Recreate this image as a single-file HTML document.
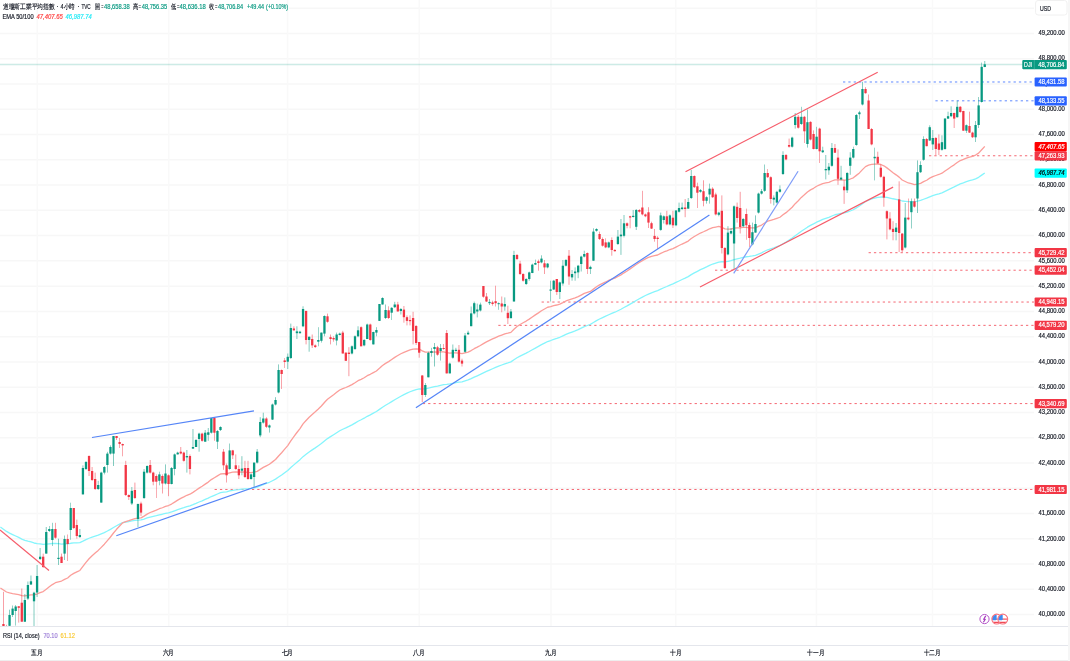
<!DOCTYPE html>
<html><head><meta charset="utf-8"><style>
html,body{margin:0;padding:0;background:#fff;}
body{width:1070px;height:661px;overflow:hidden;position:relative;font-family:"Liberation Sans",sans-serif;}
svg{position:absolute;left:0;top:0;will-change:transform;}
.tx{will-change:transform;}
.lg{position:absolute;left:2.8px;white-space:nowrap;font-size:6.6px;color:#131722;line-height:8px;}
.g{color:#089981}
</style></head><body>
<svg width="1070" height="661" viewBox="0 0 1070 661">
<line x1="0" y1="614.61" x2="1034" y2="614.61" stroke="#F7F7F7" stroke-width="1.5"/>
<line x1="0" y1="589.35" x2="1034" y2="589.35" stroke="#F7F7F7" stroke-width="1.5"/>
<line x1="0" y1="564.08" x2="1034" y2="564.08" stroke="#F7F7F7" stroke-width="1.5"/>
<line x1="0" y1="538.81" x2="1034" y2="538.81" stroke="#F7F7F7" stroke-width="1.5"/>
<line x1="0" y1="513.54" x2="1034" y2="513.54" stroke="#F7F7F7" stroke-width="1.5"/>
<line x1="0" y1="488.27" x2="1034" y2="488.27" stroke="#F7F7F7" stroke-width="1.5"/>
<line x1="0" y1="463.01" x2="1034" y2="463.01" stroke="#F7F7F7" stroke-width="1.5"/>
<line x1="0" y1="437.74" x2="1034" y2="437.74" stroke="#F7F7F7" stroke-width="1.5"/>
<line x1="0" y1="412.47" x2="1034" y2="412.47" stroke="#F7F7F7" stroke-width="1.5"/>
<line x1="0" y1="387.20" x2="1034" y2="387.20" stroke="#F7F7F7" stroke-width="1.5"/>
<line x1="0" y1="361.93" x2="1034" y2="361.93" stroke="#F7F7F7" stroke-width="1.5"/>
<line x1="0" y1="336.67" x2="1034" y2="336.67" stroke="#F7F7F7" stroke-width="1.5"/>
<line x1="0" y1="311.40" x2="1034" y2="311.40" stroke="#F7F7F7" stroke-width="1.5"/>
<line x1="0" y1="286.13" x2="1034" y2="286.13" stroke="#F7F7F7" stroke-width="1.5"/>
<line x1="0" y1="260.86" x2="1034" y2="260.86" stroke="#F7F7F7" stroke-width="1.5"/>
<line x1="0" y1="235.59" x2="1034" y2="235.59" stroke="#F7F7F7" stroke-width="1.5"/>
<line x1="0" y1="210.33" x2="1034" y2="210.33" stroke="#F7F7F7" stroke-width="1.5"/>
<line x1="0" y1="185.06" x2="1034" y2="185.06" stroke="#F7F7F7" stroke-width="1.5"/>
<line x1="0" y1="159.79" x2="1034" y2="159.79" stroke="#F7F7F7" stroke-width="1.5"/>
<line x1="0" y1="134.52" x2="1034" y2="134.52" stroke="#F7F7F7" stroke-width="1.5"/>
<line x1="0" y1="109.25" x2="1034" y2="109.25" stroke="#F7F7F7" stroke-width="1.5"/>
<line x1="0" y1="83.99" x2="1034" y2="83.99" stroke="#F7F7F7" stroke-width="1.5"/>
<line x1="0" y1="58.72" x2="1034" y2="58.72" stroke="#F7F7F7" stroke-width="1.5"/>
<line x1="0" y1="33.45" x2="1034" y2="33.45" stroke="#F7F7F7" stroke-width="1.5"/>
<line x1="0" y1="8.18" x2="1034" y2="8.18" stroke="#F7F7F7" stroke-width="1.5"/>
<rect x="0" y="2" width="289" height="9" fill="#fff"/>
<line x1="37.2" y1="0" x2="37.2" y2="626" stroke="#F9F9F9" stroke-width="1.5"/>
<line x1="168.7" y1="0" x2="168.7" y2="626" stroke="#F9F9F9" stroke-width="1.5"/>
<line x1="287.6" y1="0" x2="287.6" y2="626" stroke="#F9F9F9" stroke-width="1.5"/>
<line x1="419.3" y1="0" x2="419.3" y2="626" stroke="#F9F9F9" stroke-width="1.5"/>
<line x1="551" y1="0" x2="551" y2="626" stroke="#F9F9F9" stroke-width="1.5"/>
<line x1="675.8" y1="0" x2="675.8" y2="626" stroke="#F9F9F9" stroke-width="1.5"/>
<line x1="816.4" y1="0" x2="816.4" y2="626" stroke="#F9F9F9" stroke-width="1.5"/>
<line x1="932.5" y1="0" x2="932.5" y2="626" stroke="#F9F9F9" stroke-width="1.5"/>
<defs><clipPath id="cp"><rect x="0" y="0" width="1034" height="626"/></clipPath></defs>
<g clip-path="url(#cp)">
<line x1="214.6" y1="489.46" x2="1034" y2="489.46" stroke="#F23645" stroke-width="1" stroke-dasharray="2.3 3.03" opacity="0.75"/>
<line x1="422.8" y1="403.58" x2="1034" y2="403.58" stroke="#F23645" stroke-width="1" stroke-dasharray="2.3 3.03" opacity="0.75"/>
<line x1="498.3" y1="325.35" x2="1034" y2="325.35" stroke="#F23645" stroke-width="1" stroke-dasharray="2.3 3.03" opacity="0.75"/>
<line x1="541.6" y1="302.04" x2="1034" y2="302.04" stroke="#F23645" stroke-width="1" stroke-dasharray="2.3 3.03" opacity="0.75"/>
<line x1="715" y1="270.21" x2="1034" y2="270.21" stroke="#F23645" stroke-width="1" stroke-dasharray="2.3 3.03" opacity="0.75"/>
<line x1="868.6" y1="252.69" x2="1034" y2="252.69" stroke="#F23645" stroke-width="1" stroke-dasharray="2.3 3.03" opacity="0.75"/>
<line x1="929" y1="155.75" x2="1034" y2="155.75" stroke="#F23645" stroke-width="1" stroke-dasharray="2.3 3.03" opacity="0.75"/>
<line x1="843" y1="81.99" x2="1034" y2="81.99" stroke="#2962FF" stroke-width="1" stroke-dasharray="2.3 3.03" opacity="0.75"/>
<line x1="935.4" y1="100.82" x2="1034" y2="100.82" stroke="#2962FF" stroke-width="1" stroke-dasharray="2.3 3.03" opacity="0.75"/>
<line x1="0" y1="64.6" x2="1034" y2="64.6" stroke="#089981" stroke-width="1.5" opacity="0.2"/>
<polyline points="0.39,527.00 3.45,529.24 6.51,531.43 9.56,533.09 12.62,534.58 15.68,536.01 18.73,537.43 21.79,539.10 24.85,540.30 27.91,541.19 30.96,541.98 34.02,542.99 37.08,543.64 40.13,543.90 43.19,544.36 46.25,544.11 49.30,543.81 52.36,543.52 55.42,543.40 58.48,543.69 61.53,544.07 64.59,543.97 67.65,543.97 70.70,543.26 73.76,542.96 76.82,542.82 79.88,542.66 82.93,541.19 85.99,539.62 89.05,538.26 92.10,537.10 95.16,536.15 98.22,535.14 101.27,533.90 104.33,532.58 107.39,531.01 110.45,529.35 113.50,527.50 116.56,525.73 119.62,524.11 122.67,522.55 125.73,522.01 128.79,521.51 131.84,520.90 134.90,520.45 137.96,520.12 141.01,519.97 144.07,519.02 147.13,517.97 150.19,517.07 153.24,516.37 156.30,515.68 159.36,514.87 162.41,514.24 165.47,513.44 168.53,512.85 171.58,511.97 174.64,510.83 177.70,509.67 180.76,508.56 183.81,507.62 186.87,506.59 189.93,505.85 192.98,504.68 196.04,503.40 199.10,502.02 202.15,500.81 205.21,499.46 208.27,498.13 211.33,496.54 214.38,495.28 217.44,494.01 220.50,492.68 223.55,492.14 226.61,491.80 229.67,490.98 232.72,490.28 235.78,489.86 238.84,489.57 241.90,489.15 244.95,488.91 248.01,488.72 251.07,488.43 254.12,487.92 257.18,487.20 260.24,485.91 263.29,484.58 266.35,483.43 269.41,482.28 272.47,480.74 275.52,479.14 278.58,476.98 281.64,474.94 284.69,472.71 287.75,470.41 290.81,467.59 293.87,464.87 296.92,462.23 299.98,459.65 303.04,456.66 306.09,454.35 309.15,452.02 312.21,449.91 315.26,447.88 318.32,445.74 321.38,443.50 324.44,440.97 327.49,438.61 330.55,436.64 333.61,434.72 336.66,432.73 339.72,430.77 342.78,429.24 345.83,427.88 348.89,426.42 351.95,424.83 355.00,423.08 358.06,421.24 361.12,419.76 364.18,418.18 367.23,416.32 370.29,414.81 373.35,413.17 376.40,411.53 379.46,409.40 382.52,407.19 385.57,405.27 388.63,403.54 391.69,401.64 394.75,399.72 397.80,397.97 400.86,396.21 403.92,394.64 406.97,393.18 410.03,391.76 413.09,390.56 416.14,389.61 419.20,388.88 422.26,389.00 425.32,388.92 428.37,388.21 431.43,387.47 434.49,386.67 437.54,386.04 440.60,385.28 443.66,384.57 446.71,384.35 449.77,383.93 452.83,383.26 455.89,382.60 458.94,382.18 462.00,381.81 465.06,380.90 468.11,379.94 471.17,378.62 474.23,377.13 477.28,375.79 480.34,374.38 483.40,372.84 486.46,371.43 489.51,370.05 492.57,368.74 495.63,367.45 498.68,366.17 501.74,364.99 504.80,363.79 507.85,362.88 510.91,361.87 513.97,359.75 517.03,357.75 520.08,356.10 523.14,354.60 526.20,353.11 529.25,351.51 532.31,349.79 535.37,348.07 538.43,346.38 541.48,344.65 544.54,343.12 547.60,341.54 550.65,340.51 553.71,339.33 556.77,338.39 559.82,337.28 562.88,335.86 565.94,334.36 569.00,333.21 572.05,332.04 575.11,330.84 578.17,329.55 581.22,328.11 584.28,326.64 587.34,325.50 590.39,324.34 593.45,322.50 596.51,320.65 599.57,319.03 602.62,317.58 605.68,316.19 608.74,314.73 611.79,313.45 614.85,312.22 617.91,310.72 620.96,309.21 624.02,307.51 627.08,305.89 630.13,304.14 633.19,302.39 636.25,300.56 639.31,298.80 642.36,297.13 645.42,295.53 648.48,294.09 651.53,292.79 654.59,291.73 657.65,290.68 660.71,289.19 663.76,287.75 666.82,286.49 669.88,285.09 672.93,283.90 675.99,282.45 679.05,280.97 682.10,279.52 685.16,278.12 688.22,276.62 691.27,274.62 694.33,272.89 697.39,271.30 700.45,269.69 703.50,268.33 706.56,266.92 709.62,265.37 712.67,264.02 715.73,263.04 718.79,262.04 721.85,261.76 724.90,261.89 727.96,261.31 731.02,260.71 734.07,259.63 737.13,258.80 740.19,258.17 743.24,257.40 746.30,256.76 749.36,256.39 752.42,255.91 755.47,255.28 758.53,254.06 761.59,252.81 764.64,251.23 767.70,249.77 770.76,248.76 773.81,247.75 776.87,246.64 779.93,245.51 782.99,243.72 786.04,242.05 789.10,240.16 792.16,238.13 795.21,235.73 798.27,233.59 801.33,231.27 804.38,229.30 807.44,227.17 810.50,225.44 813.56,223.92 816.61,222.20 819.67,220.79 822.73,219.40 825.78,218.40 828.84,217.38 831.90,216.00 834.95,214.75 838.01,214.04 841.07,213.32 844.12,212.86 847.18,212.07 850.24,210.99 853.30,209.77 856.35,207.89 859.41,206.00 862.47,203.68 865.52,201.49 868.58,200.06 871.64,198.96 874.70,198.12 877.75,197.43 880.81,197.02 883.87,197.03 886.92,197.46 889.98,198.09 893.04,198.76 896.09,199.33 899.15,200.00 902.21,201.00 905.26,201.33 908.32,201.68 911.38,201.68 914.44,201.78 917.49,201.19 920.55,200.47 923.61,199.26 926.66,198.21 929.72,196.80 932.78,195.64 935.84,194.71 938.89,193.82 941.95,192.80 945.01,191.33 948.06,189.84 951.12,188.32 954.18,186.94 957.23,185.35 960.29,183.90 963.35,182.85 966.40,181.71 969.46,180.73 972.52,179.87 975.58,178.79 978.63,177.33 981.69,175.14 984.75,172.95" fill="none" stroke="#86F5FC" stroke-width="1.3" stroke-linejoin="round"/>
<polyline points="0.39,588.00 3.45,590.04 6.51,592.00 9.56,592.90 12.62,593.52 15.68,594.03 18.73,594.57 21.79,595.63 24.85,595.80 27.91,595.38 30.96,594.83 34.02,594.74 37.08,594.01 40.13,592.54 43.19,591.54 46.25,589.21 49.30,586.85 52.36,584.58 55.42,582.74 58.48,581.76 61.53,581.03 64.59,579.38 67.65,577.99 70.70,575.25 73.76,573.39 76.82,571.93 79.88,570.48 82.93,566.46 85.99,562.36 89.05,558.78 92.10,555.69 95.16,553.08 98.22,550.41 101.27,547.35 104.33,544.20 107.39,540.65 110.45,536.98 113.50,533.02 116.56,529.29 119.62,525.95 122.67,522.79 125.73,521.70 128.79,520.73 131.84,519.56 134.90,518.71 137.96,518.13 141.01,517.92 144.07,516.10 147.13,514.14 150.19,512.51 153.24,511.30 156.30,510.14 159.36,508.74 162.41,507.75 165.47,506.41 168.53,505.53 171.58,504.06 174.64,502.11 177.70,500.17 180.76,498.34 183.81,496.87 186.87,495.26 189.93,494.23 192.98,492.38 196.04,490.33 199.10,488.10 202.15,486.25 205.21,484.15 208.27,482.11 211.33,479.60 214.38,477.76 217.44,475.93 220.50,474.01 223.55,473.67 226.61,473.73 229.67,472.82 232.72,472.13 235.78,472.01 238.84,472.14 241.90,472.00 244.95,472.19 248.01,472.46 251.07,472.54 254.12,472.15 257.18,471.34 260.24,469.41 263.29,467.41 266.35,465.82 269.41,464.24 272.47,461.89 275.52,459.47 278.58,455.96 281.64,452.74 284.69,449.18 287.75,445.56 290.81,440.95 293.87,436.61 296.92,432.49 299.98,428.53 303.04,423.85 306.09,420.56 309.15,417.27 312.21,414.45 315.26,411.81 318.32,408.99 321.38,406.00 324.44,402.47 327.49,399.30 330.55,396.94 333.61,394.68 336.66,392.32 339.72,390.02 342.78,388.59 345.83,387.50 348.89,386.18 351.95,384.62 355.00,382.73 358.06,380.67 361.12,379.32 364.18,377.78 367.23,375.69 370.29,374.29 373.35,372.63 376.40,370.96 379.46,368.33 382.52,365.58 385.57,363.40 388.63,361.62 391.69,359.51 394.75,357.35 397.80,355.55 400.86,353.72 403.92,352.29 406.97,351.06 410.03,349.89 413.09,349.15 416.14,348.91 419.20,349.05 422.26,350.86 425.32,352.20 428.37,352.22 431.43,352.17 434.49,351.97 437.54,352.08 440.60,351.92 443.66,351.80 446.71,352.65 449.77,353.08 452.83,352.95 455.89,352.83 458.94,353.17 462.00,353.58 465.06,352.87 468.11,352.08 471.17,350.56 474.23,348.70 477.28,347.17 480.34,345.50 483.40,343.58 486.46,341.93 489.51,340.36 492.57,338.94 495.63,337.54 498.68,336.19 501.74,335.03 504.80,333.81 507.85,333.20 510.91,332.35 513.97,329.31 517.03,326.56 520.08,324.49 523.14,322.78 526.20,321.06 529.25,319.15 532.31,317.01 535.37,314.89 538.43,312.86 541.48,310.73 544.54,309.03 547.60,307.25 550.65,306.55 553.71,305.54 556.77,305.01 559.82,304.12 562.88,302.62 565.94,300.95 569.00,299.99 572.05,298.97 575.11,297.89 578.17,296.63 581.22,295.06 584.28,293.45 587.34,292.49 590.39,291.49 593.45,289.14 596.51,286.78 599.57,284.91 602.62,283.37 605.68,281.96 608.74,280.41 611.79,279.21 614.85,278.12 617.91,276.49 620.96,274.84 624.02,272.82 627.08,270.98 630.13,268.88 633.19,266.80 636.25,264.57 639.31,262.50 642.36,260.61 645.42,258.88 648.48,257.45 651.53,256.32 654.59,255.64 657.65,254.99 660.71,253.44 663.76,251.98 666.82,250.90 669.88,249.51 672.93,248.56 675.99,247.07 679.05,245.53 682.10,244.04 685.16,242.67 688.22,241.07 691.27,238.52 694.33,236.51 697.39,234.79 700.45,233.03 703.50,231.77 706.56,230.41 709.62,228.78 712.67,227.54 715.73,227.02 718.79,226.46 721.85,227.30 724.90,228.90 727.96,229.04 731.02,229.12 734.07,228.23 737.13,227.83 740.19,227.79 743.24,227.45 746.30,227.36 749.36,227.78 752.42,227.95 755.47,227.80 758.53,226.46 761.59,225.08 764.64,223.03 767.70,221.24 770.76,220.36 773.81,219.48 776.87,218.39 779.93,217.25 782.99,214.81 786.04,212.64 789.10,210.05 792.16,207.21 795.21,203.67 798.27,200.69 801.33,197.40 804.38,194.81 807.44,191.96 810.50,189.90 813.56,188.30 816.61,186.27 819.67,184.90 822.73,183.55 825.78,182.98 828.84,182.34 831.90,180.99 834.95,179.88 838.01,179.84 841.07,179.75 844.12,180.17 847.18,179.89 850.24,179.01 853.30,177.84 856.35,175.37 859.41,172.90 862.47,169.61 865.52,166.61 868.58,165.14 871.64,164.33 874.70,164.03 877.75,164.00 880.81,164.50 883.87,165.80 886.92,167.87 889.98,170.28 893.04,172.70 896.09,174.85 899.15,177.14 902.21,180.00 905.26,181.48 908.32,182.97 911.38,183.68 914.44,184.59 917.49,184.10 920.55,183.35 923.61,181.61 926.66,180.22 929.72,178.15 932.78,176.57 935.84,175.49 938.89,174.48 941.95,173.22 945.01,171.07 948.06,168.92 951.12,166.73 954.18,164.84 957.23,162.57 960.29,160.58 963.35,159.41 966.40,158.07 969.46,157.07 972.52,156.29 975.58,155.06 978.63,153.12 981.69,149.73 984.75,146.38" fill="none" stroke="#FB9E9A" stroke-width="1.3" stroke-linejoin="round"/>
<line x1="3.45" y1="591.8" x2="3.45" y2="640.0" stroke="#F23645" stroke-width="0.6" opacity="0.85"/>
<rect x="2.30" y="624.0" width="2.3" height="16.0" fill="#F23645"/>
<line x1="6.51" y1="624.8" x2="6.51" y2="640.0" stroke="#F23645" stroke-width="0.6" opacity="0.85"/>
<rect x="5.36" y="626.0" width="2.3" height="14.0" fill="#F23645"/>
<line x1="9.56" y1="609.7" x2="9.56" y2="626.0" stroke="#089981" stroke-width="0.6" opacity="0.85"/>
<rect x="8.41" y="615.0" width="2.3" height="10.8" fill="#089981"/>
<line x1="12.62" y1="605.5" x2="12.62" y2="617.0" stroke="#089981" stroke-width="0.6" opacity="0.85"/>
<rect x="11.47" y="608.6" width="2.3" height="6.4" fill="#089981"/>
<line x1="15.68" y1="605.0" x2="15.68" y2="625.6" stroke="#089981" stroke-width="0.6" opacity="0.85"/>
<rect x="14.53" y="606.5" width="2.3" height="4.5" fill="#089981"/>
<line x1="18.73" y1="606.0" x2="18.73" y2="622.6" stroke="#F23645" stroke-width="0.6" opacity="0.85"/>
<rect x="17.59" y="606.3" width="2.3" height="1.5" fill="#F23645"/>
<line x1="21.79" y1="588.5" x2="21.79" y2="621.7" stroke="#F23645" stroke-width="0.6" opacity="0.85"/>
<rect x="20.64" y="602.7" width="2.3" height="19.0" fill="#F23645"/>
<line x1="24.85" y1="594.0" x2="24.85" y2="622.0" stroke="#089981" stroke-width="0.6" opacity="0.85"/>
<rect x="23.70" y="600.0" width="2.3" height="21.7" fill="#089981"/>
<line x1="27.91" y1="581.5" x2="27.91" y2="600.0" stroke="#089981" stroke-width="0.6" opacity="0.85"/>
<rect x="26.76" y="585.0" width="2.3" height="13.6" fill="#089981"/>
<line x1="30.96" y1="575.5" x2="30.96" y2="585.0" stroke="#089981" stroke-width="0.6" opacity="0.85"/>
<rect x="29.81" y="581.3" width="2.3" height="3.2" fill="#089981"/>
<line x1="34.02" y1="591.7" x2="34.02" y2="626.0" stroke="#089981" stroke-width="0.6" opacity="0.85"/>
<rect x="32.87" y="592.7" width="2.3" height="8.6" fill="#089981"/>
<line x1="37.08" y1="565.0" x2="37.08" y2="597.0" stroke="#089981" stroke-width="0.6" opacity="0.85"/>
<rect x="35.93" y="576.0" width="2.3" height="16.5" fill="#089981"/>
<line x1="40.13" y1="548.0" x2="40.13" y2="560.0" stroke="#089981" stroke-width="0.6" opacity="0.85"/>
<rect x="38.98" y="556.7" width="2.3" height="2.3" fill="#089981"/>
<line x1="43.19" y1="553.6" x2="43.19" y2="568.0" stroke="#F23645" stroke-width="0.6" opacity="0.85"/>
<rect x="42.04" y="556.7" width="2.3" height="10.3" fill="#F23645"/>
<line x1="46.25" y1="527.0" x2="46.25" y2="553.6" stroke="#089981" stroke-width="0.6" opacity="0.85"/>
<rect x="45.10" y="532.0" width="2.3" height="21.6" fill="#089981"/>
<line x1="49.30" y1="526.0" x2="49.30" y2="532.0" stroke="#089981" stroke-width="0.6" opacity="0.85"/>
<rect x="48.16" y="529.0" width="2.3" height="2.0" fill="#089981"/>
<line x1="52.36" y1="522.8" x2="52.36" y2="546.0" stroke="#089981" stroke-width="0.6" opacity="0.85"/>
<rect x="51.21" y="529.0" width="2.3" height="11.0" fill="#089981"/>
<line x1="55.42" y1="522.8" x2="55.42" y2="538.7" stroke="#F23645" stroke-width="0.6" opacity="0.85"/>
<rect x="54.27" y="529.0" width="2.3" height="8.7" fill="#F23645"/>
<line x1="58.48" y1="538.7" x2="58.48" y2="565.0" stroke="#089981" stroke-width="0.6" opacity="0.85"/>
<rect x="57.33" y="557.8" width="2.3" height="1.2" fill="#089981"/>
<line x1="61.53" y1="553.6" x2="61.53" y2="563.0" stroke="#F23645" stroke-width="0.6" opacity="0.85"/>
<rect x="60.38" y="556.7" width="2.3" height="6.3" fill="#F23645"/>
<line x1="64.59" y1="535.5" x2="64.59" y2="560.0" stroke="#089981" stroke-width="0.6" opacity="0.85"/>
<rect x="63.44" y="539.0" width="2.3" height="14.6" fill="#089981"/>
<line x1="67.65" y1="534.5" x2="67.65" y2="561.0" stroke="#F23645" stroke-width="0.6" opacity="0.85"/>
<rect x="66.50" y="539.0" width="2.3" height="5.0" fill="#F23645"/>
<line x1="70.70" y1="502.7" x2="70.70" y2="539.8" stroke="#089981" stroke-width="0.6" opacity="0.85"/>
<rect x="69.55" y="508.0" width="2.3" height="22.0" fill="#089981"/>
<line x1="73.76" y1="508.0" x2="73.76" y2="529.0" stroke="#F23645" stroke-width="0.6" opacity="0.85"/>
<rect x="72.61" y="508.0" width="2.3" height="20.0" fill="#F23645"/>
<line x1="76.82" y1="519.6" x2="76.82" y2="538.7" stroke="#F23645" stroke-width="0.6" opacity="0.85"/>
<rect x="75.67" y="525.0" width="2.3" height="11.0" fill="#F23645"/>
<line x1="79.88" y1="529.0" x2="79.88" y2="538.0" stroke="#089981" stroke-width="0.6" opacity="0.85"/>
<rect x="78.72" y="535.0" width="2.3" height="2.0" fill="#089981"/>
<line x1="82.93" y1="465.4" x2="82.93" y2="494.4" stroke="#089981" stroke-width="0.6" opacity="0.85"/>
<rect x="81.78" y="468.0" width="2.3" height="26.4" fill="#089981"/>
<line x1="85.99" y1="461.0" x2="85.99" y2="470.0" stroke="#089981" stroke-width="0.6" opacity="0.85"/>
<rect x="84.84" y="462.0" width="2.3" height="7.0" fill="#089981"/>
<line x1="89.05" y1="455.4" x2="89.05" y2="476.0" stroke="#F23645" stroke-width="0.6" opacity="0.85"/>
<rect x="87.90" y="456.0" width="2.3" height="15.0" fill="#F23645"/>
<line x1="92.10" y1="467.0" x2="92.10" y2="481.0" stroke="#F23645" stroke-width="0.6" opacity="0.85"/>
<rect x="90.95" y="471.0" width="2.3" height="9.0" fill="#F23645"/>
<line x1="95.16" y1="472.6" x2="95.16" y2="490.0" stroke="#F23645" stroke-width="0.6" opacity="0.85"/>
<rect x="94.01" y="479.0" width="2.3" height="10.0" fill="#F23645"/>
<line x1="98.22" y1="480.8" x2="98.22" y2="490.0" stroke="#089981" stroke-width="0.6" opacity="0.85"/>
<rect x="97.07" y="485.0" width="2.3" height="4.0" fill="#089981"/>
<line x1="101.27" y1="471.7" x2="101.27" y2="502.6" stroke="#089981" stroke-width="0.6" opacity="0.85"/>
<rect x="100.12" y="472.6" width="2.3" height="30.0" fill="#089981"/>
<line x1="104.33" y1="466.0" x2="104.33" y2="474.4" stroke="#089981" stroke-width="0.6" opacity="0.85"/>
<rect x="103.18" y="467.0" width="2.3" height="5.6" fill="#089981"/>
<line x1="107.39" y1="451.8" x2="107.39" y2="472.6" stroke="#089981" stroke-width="0.6" opacity="0.85"/>
<rect x="106.24" y="453.6" width="2.3" height="11.4" fill="#089981"/>
<line x1="110.45" y1="445.4" x2="110.45" y2="454.5" stroke="#089981" stroke-width="0.6" opacity="0.85"/>
<rect x="109.30" y="447.0" width="2.3" height="6.6" fill="#089981"/>
<line x1="113.50" y1="436.0" x2="113.50" y2="466.0" stroke="#089981" stroke-width="0.6" opacity="0.85"/>
<rect x="112.35" y="436.0" width="2.3" height="17.6" fill="#089981"/>
<line x1="116.56" y1="436.0" x2="116.56" y2="440.0" stroke="#F23645" stroke-width="0.6" opacity="0.85"/>
<rect x="115.41" y="436.0" width="2.3" height="2.0" fill="#F23645"/>
<line x1="119.62" y1="438.0" x2="119.62" y2="448.0" stroke="#F23645" stroke-width="0.6" opacity="0.85"/>
<rect x="118.47" y="442.0" width="2.3" height="2.0" fill="#F23645"/>
<line x1="122.67" y1="443.6" x2="122.67" y2="456.3" stroke="#F23645" stroke-width="0.6" opacity="0.85"/>
<rect x="121.52" y="444.0" width="2.3" height="1.4" fill="#F23645"/>
<line x1="125.73" y1="460.8" x2="125.73" y2="496.0" stroke="#F23645" stroke-width="0.6" opacity="0.85"/>
<rect x="124.58" y="465.0" width="2.3" height="30.0" fill="#F23645"/>
<line x1="128.79" y1="494.4" x2="128.79" y2="500.0" stroke="#F23645" stroke-width="0.6" opacity="0.85"/>
<rect x="127.64" y="495.0" width="2.3" height="2.0" fill="#F23645"/>
<line x1="131.84" y1="487.0" x2="131.84" y2="505.0" stroke="#089981" stroke-width="0.6" opacity="0.85"/>
<rect x="130.69" y="490.8" width="2.3" height="12.7" fill="#089981"/>
<line x1="134.90" y1="482.6" x2="134.90" y2="499.0" stroke="#F23645" stroke-width="0.6" opacity="0.85"/>
<rect x="133.75" y="490.0" width="2.3" height="8.0" fill="#F23645"/>
<line x1="137.96" y1="503.5" x2="137.96" y2="527.0" stroke="#089981" stroke-width="0.6" opacity="0.85"/>
<rect x="136.81" y="504.0" width="2.3" height="15.0" fill="#089981"/>
<line x1="141.01" y1="501.7" x2="141.01" y2="516.0" stroke="#F23645" stroke-width="0.6" opacity="0.85"/>
<rect x="139.86" y="503.5" width="2.3" height="9.1" fill="#F23645"/>
<line x1="144.07" y1="469.0" x2="144.07" y2="499.0" stroke="#089981" stroke-width="0.6" opacity="0.85"/>
<rect x="142.92" y="471.7" width="2.3" height="26.3" fill="#089981"/>
<line x1="147.13" y1="465.4" x2="147.13" y2="473.5" stroke="#089981" stroke-width="0.6" opacity="0.85"/>
<rect x="145.98" y="466.0" width="2.3" height="6.6" fill="#089981"/>
<line x1="150.19" y1="460.0" x2="150.19" y2="473.5" stroke="#F23645" stroke-width="0.6" opacity="0.85"/>
<rect x="149.04" y="465.0" width="2.3" height="7.6" fill="#F23645"/>
<line x1="153.24" y1="471.7" x2="153.24" y2="485.3" stroke="#F23645" stroke-width="0.6" opacity="0.85"/>
<rect x="152.09" y="472.6" width="2.3" height="9.1" fill="#F23645"/>
<line x1="156.30" y1="474.4" x2="156.30" y2="498.0" stroke="#F23645" stroke-width="0.6" opacity="0.85"/>
<rect x="155.15" y="476.0" width="2.3" height="5.7" fill="#F23645"/>
<line x1="159.36" y1="471.7" x2="159.36" y2="485.3" stroke="#089981" stroke-width="0.6" opacity="0.85"/>
<rect x="158.21" y="474.4" width="2.3" height="6.4" fill="#089981"/>
<line x1="162.41" y1="474.4" x2="162.41" y2="493.5" stroke="#F23645" stroke-width="0.6" opacity="0.85"/>
<rect x="161.26" y="476.0" width="2.3" height="7.5" fill="#F23645"/>
<line x1="165.47" y1="464.4" x2="165.47" y2="484.4" stroke="#089981" stroke-width="0.6" opacity="0.85"/>
<rect x="164.32" y="473.5" width="2.3" height="10.0" fill="#089981"/>
<line x1="168.53" y1="474.4" x2="168.53" y2="496.2" stroke="#F23645" stroke-width="0.6" opacity="0.85"/>
<rect x="167.38" y="475.3" width="2.3" height="8.7" fill="#F23645"/>
<line x1="171.58" y1="467.0" x2="171.58" y2="484.4" stroke="#089981" stroke-width="0.6" opacity="0.85"/>
<rect x="170.43" y="468.0" width="2.3" height="16.0" fill="#089981"/>
<line x1="174.64" y1="453.5" x2="174.64" y2="475.3" stroke="#089981" stroke-width="0.6" opacity="0.85"/>
<rect x="173.49" y="454.4" width="2.3" height="14.6" fill="#089981"/>
<line x1="177.70" y1="451.7" x2="177.70" y2="454.4" stroke="#089981" stroke-width="0.6" opacity="0.85"/>
<rect x="176.55" y="452.6" width="2.3" height="1.8" fill="#089981"/>
<line x1="180.76" y1="447.0" x2="180.76" y2="454.4" stroke="#F23645" stroke-width="0.6" opacity="0.85"/>
<rect x="179.61" y="451.7" width="2.3" height="1.8" fill="#F23645"/>
<line x1="183.81" y1="451.7" x2="183.81" y2="461.7" stroke="#F23645" stroke-width="0.6" opacity="0.85"/>
<rect x="182.66" y="452.6" width="2.3" height="8.2" fill="#F23645"/>
<line x1="186.87" y1="450.0" x2="186.87" y2="472.6" stroke="#089981" stroke-width="0.6" opacity="0.85"/>
<rect x="185.72" y="456.0" width="2.3" height="1.4" fill="#089981"/>
<line x1="189.93" y1="454.4" x2="189.93" y2="474.4" stroke="#F23645" stroke-width="0.6" opacity="0.85"/>
<rect x="188.78" y="456.0" width="2.3" height="13.0" fill="#F23645"/>
<line x1="192.98" y1="429.0" x2="192.98" y2="449.0" stroke="#089981" stroke-width="0.6" opacity="0.85"/>
<rect x="191.83" y="447.0" width="2.3" height="1.6" fill="#089981"/>
<line x1="196.04" y1="439.0" x2="196.04" y2="447.0" stroke="#089981" stroke-width="0.6" opacity="0.85"/>
<rect x="194.89" y="440.0" width="2.3" height="7.0" fill="#089981"/>
<line x1="199.10" y1="432.7" x2="199.10" y2="451.7" stroke="#089981" stroke-width="0.6" opacity="0.85"/>
<rect x="197.95" y="433.6" width="2.3" height="5.4" fill="#089981"/>
<line x1="202.15" y1="432.7" x2="202.15" y2="441.7" stroke="#F23645" stroke-width="0.6" opacity="0.85"/>
<rect x="201.00" y="433.6" width="2.3" height="7.2" fill="#F23645"/>
<line x1="205.21" y1="430.0" x2="205.21" y2="441.7" stroke="#089981" stroke-width="0.6" opacity="0.85"/>
<rect x="204.06" y="432.7" width="2.3" height="9.0" fill="#089981"/>
<line x1="208.27" y1="428.0" x2="208.27" y2="440.8" stroke="#089981" stroke-width="0.6" opacity="0.85"/>
<rect x="207.12" y="432.3" width="2.3" height="2.5" fill="#089981"/>
<line x1="211.33" y1="418.0" x2="211.33" y2="433.6" stroke="#089981" stroke-width="0.6" opacity="0.85"/>
<rect x="210.18" y="418.0" width="2.3" height="14.7" fill="#089981"/>
<line x1="214.38" y1="417.0" x2="214.38" y2="440.8" stroke="#F23645" stroke-width="0.6" opacity="0.85"/>
<rect x="213.23" y="418.0" width="2.3" height="14.7" fill="#F23645"/>
<line x1="217.44" y1="430.0" x2="217.44" y2="449.0" stroke="#089981" stroke-width="0.6" opacity="0.85"/>
<rect x="216.29" y="431.0" width="2.3" height="10.7" fill="#089981"/>
<line x1="220.50" y1="426.3" x2="220.50" y2="431.0" stroke="#089981" stroke-width="0.6" opacity="0.85"/>
<rect x="219.35" y="427.0" width="2.3" height="3.0" fill="#089981"/>
<line x1="223.55" y1="449.0" x2="223.55" y2="469.8" stroke="#F23645" stroke-width="0.6" opacity="0.85"/>
<rect x="222.40" y="451.7" width="2.3" height="13.6" fill="#F23645"/>
<line x1="226.61" y1="463.5" x2="226.61" y2="482.5" stroke="#F23645" stroke-width="0.6" opacity="0.85"/>
<rect x="225.46" y="465.3" width="2.3" height="10.0" fill="#F23645"/>
<line x1="229.67" y1="443.5" x2="229.67" y2="469.8" stroke="#089981" stroke-width="0.6" opacity="0.85"/>
<rect x="228.52" y="450.4" width="2.3" height="18.6" fill="#089981"/>
<line x1="232.72" y1="449.9" x2="232.72" y2="459.0" stroke="#F23645" stroke-width="0.6" opacity="0.85"/>
<rect x="231.57" y="450.4" width="2.3" height="4.9" fill="#F23645"/>
<line x1="235.78" y1="454.4" x2="235.78" y2="469.8" stroke="#F23645" stroke-width="0.6" opacity="0.85"/>
<rect x="234.63" y="465.3" width="2.3" height="3.7" fill="#F23645"/>
<line x1="238.84" y1="465.3" x2="238.84" y2="479.0" stroke="#F23645" stroke-width="0.6" opacity="0.85"/>
<rect x="237.69" y="469.0" width="2.3" height="6.3" fill="#F23645"/>
<line x1="241.90" y1="456.2" x2="241.90" y2="475.3" stroke="#089981" stroke-width="0.6" opacity="0.85"/>
<rect x="240.75" y="468.6" width="2.3" height="2.1" fill="#089981"/>
<line x1="244.95" y1="460.8" x2="244.95" y2="478.0" stroke="#F23645" stroke-width="0.6" opacity="0.85"/>
<rect x="243.80" y="468.0" width="2.3" height="9.0" fill="#F23645"/>
<line x1="248.01" y1="460.8" x2="248.01" y2="479.8" stroke="#F23645" stroke-width="0.6" opacity="0.85"/>
<rect x="246.86" y="468.0" width="2.3" height="11.0" fill="#F23645"/>
<line x1="251.07" y1="473.5" x2="251.07" y2="479.8" stroke="#089981" stroke-width="0.6" opacity="0.85"/>
<rect x="249.92" y="474.4" width="2.3" height="4.6" fill="#089981"/>
<line x1="254.12" y1="462.6" x2="254.12" y2="487.0" stroke="#089981" stroke-width="0.6" opacity="0.85"/>
<rect x="252.97" y="462.6" width="2.3" height="14.4" fill="#089981"/>
<line x1="257.18" y1="449.0" x2="257.18" y2="463.5" stroke="#089981" stroke-width="0.6" opacity="0.85"/>
<rect x="256.03" y="451.7" width="2.3" height="10.9" fill="#089981"/>
<line x1="260.24" y1="417.2" x2="260.24" y2="437.2" stroke="#089981" stroke-width="0.6" opacity="0.85"/>
<rect x="259.09" y="422.0" width="2.3" height="13.4" fill="#089981"/>
<line x1="263.29" y1="412.7" x2="263.29" y2="423.6" stroke="#089981" stroke-width="0.6" opacity="0.85"/>
<rect x="262.14" y="418.5" width="2.3" height="4.1" fill="#089981"/>
<line x1="266.35" y1="417.2" x2="266.35" y2="428.0" stroke="#F23645" stroke-width="0.6" opacity="0.85"/>
<rect x="265.20" y="418.5" width="2.3" height="8.3" fill="#F23645"/>
<line x1="269.41" y1="424.5" x2="269.41" y2="432.6" stroke="#089981" stroke-width="0.6" opacity="0.85"/>
<rect x="268.26" y="425.4" width="2.3" height="2.1" fill="#089981"/>
<line x1="272.47" y1="403.6" x2="272.47" y2="420.0" stroke="#089981" stroke-width="0.6" opacity="0.85"/>
<rect x="271.32" y="404.5" width="2.3" height="15.1" fill="#089981"/>
<line x1="275.52" y1="397.2" x2="275.52" y2="405.4" stroke="#089981" stroke-width="0.6" opacity="0.85"/>
<rect x="274.37" y="400.0" width="2.3" height="4.5" fill="#089981"/>
<line x1="278.58" y1="364.4" x2="278.58" y2="393.4" stroke="#089981" stroke-width="0.6" opacity="0.85"/>
<rect x="277.43" y="370.0" width="2.3" height="22.5" fill="#089981"/>
<line x1="281.64" y1="369.5" x2="281.64" y2="389.0" stroke="#F23645" stroke-width="0.6" opacity="0.85"/>
<rect x="280.49" y="370.0" width="2.3" height="4.0" fill="#F23645"/>
<line x1="284.69" y1="358.0" x2="284.69" y2="368.0" stroke="#F23645" stroke-width="0.6" opacity="0.85"/>
<rect x="283.54" y="360.4" width="2.3" height="1.6" fill="#F23645"/>
<line x1="287.75" y1="353.5" x2="287.75" y2="369.0" stroke="#089981" stroke-width="0.6" opacity="0.85"/>
<rect x="286.60" y="356.8" width="2.3" height="4.9" fill="#089981"/>
<line x1="290.81" y1="323.6" x2="290.81" y2="359.0" stroke="#089981" stroke-width="0.6" opacity="0.85"/>
<rect x="289.66" y="328.0" width="2.3" height="30.0" fill="#089981"/>
<line x1="293.87" y1="326.3" x2="293.87" y2="330.8" stroke="#F23645" stroke-width="0.6" opacity="0.85"/>
<rect x="292.72" y="328.5" width="2.3" height="1.8" fill="#F23645"/>
<line x1="296.92" y1="326.3" x2="296.92" y2="339.0" stroke="#089981" stroke-width="0.6" opacity="0.85"/>
<rect x="295.77" y="331.4" width="2.3" height="1.8" fill="#089981"/>
<line x1="299.98" y1="330.8" x2="299.98" y2="333.6" stroke="#089981" stroke-width="0.6" opacity="0.85"/>
<rect x="298.83" y="331.7" width="2.3" height="1.5" fill="#089981"/>
<line x1="303.04" y1="306.3" x2="303.04" y2="327.2" stroke="#089981" stroke-width="0.6" opacity="0.85"/>
<rect x="301.89" y="309.0" width="2.3" height="17.3" fill="#089981"/>
<line x1="306.09" y1="310.9" x2="306.09" y2="344.4" stroke="#F23645" stroke-width="0.6" opacity="0.85"/>
<rect x="304.94" y="310.9" width="2.3" height="29.1" fill="#F23645"/>
<line x1="309.15" y1="336.3" x2="309.15" y2="351.7" stroke="#089981" stroke-width="0.6" opacity="0.85"/>
<rect x="308.00" y="336.8" width="2.3" height="3.2" fill="#089981"/>
<line x1="312.21" y1="334.5" x2="312.21" y2="348.0" stroke="#F23645" stroke-width="0.6" opacity="0.85"/>
<rect x="311.06" y="339.0" width="2.3" height="6.4" fill="#F23645"/>
<line x1="315.26" y1="344.4" x2="315.26" y2="348.0" stroke="#F23645" stroke-width="0.6" opacity="0.85"/>
<rect x="314.11" y="345.4" width="2.3" height="1.6" fill="#F23645"/>
<line x1="318.32" y1="327.2" x2="318.32" y2="346.3" stroke="#089981" stroke-width="0.6" opacity="0.85"/>
<rect x="317.17" y="340.0" width="2.3" height="1.7" fill="#089981"/>
<line x1="321.38" y1="332.6" x2="321.38" y2="342.6" stroke="#089981" stroke-width="0.6" opacity="0.85"/>
<rect x="320.23" y="332.6" width="2.3" height="8.2" fill="#089981"/>
<line x1="324.44" y1="315.4" x2="324.44" y2="336.3" stroke="#089981" stroke-width="0.6" opacity="0.85"/>
<rect x="323.29" y="316.0" width="2.3" height="17.6" fill="#089981"/>
<line x1="327.49" y1="313.6" x2="327.49" y2="322.7" stroke="#F23645" stroke-width="0.6" opacity="0.85"/>
<rect x="326.34" y="316.3" width="2.3" height="5.5" fill="#F23645"/>
<line x1="330.55" y1="334.5" x2="330.55" y2="344.4" stroke="#F23645" stroke-width="0.6" opacity="0.85"/>
<rect x="329.40" y="337.2" width="2.3" height="1.8" fill="#F23645"/>
<line x1="333.61" y1="336.3" x2="333.61" y2="341.7" stroke="#F23645" stroke-width="0.6" opacity="0.85"/>
<rect x="332.46" y="338.0" width="2.3" height="1.4" fill="#F23645"/>
<line x1="336.66" y1="332.6" x2="336.66" y2="345.4" stroke="#089981" stroke-width="0.6" opacity="0.85"/>
<rect x="335.51" y="334.5" width="2.3" height="6.0" fill="#089981"/>
<line x1="339.72" y1="332.6" x2="339.72" y2="335.4" stroke="#089981" stroke-width="0.6" opacity="0.85"/>
<rect x="338.57" y="333.6" width="2.3" height="1.4" fill="#089981"/>
<line x1="342.78" y1="330.8" x2="342.78" y2="353.5" stroke="#F23645" stroke-width="0.6" opacity="0.85"/>
<rect x="341.63" y="332.6" width="2.3" height="20.9" fill="#F23645"/>
<line x1="345.83" y1="352.6" x2="345.83" y2="360.8" stroke="#F23645" stroke-width="0.6" opacity="0.85"/>
<rect x="344.68" y="352.6" width="2.3" height="8.2" fill="#F23645"/>
<line x1="348.89" y1="347.2" x2="348.89" y2="376.2" stroke="#F23645" stroke-width="0.6" opacity="0.85"/>
<rect x="347.74" y="352.6" width="2.3" height="1.4" fill="#F23645"/>
<line x1="351.95" y1="345.4" x2="351.95" y2="354.4" stroke="#089981" stroke-width="0.6" opacity="0.85"/>
<rect x="350.80" y="346.3" width="2.3" height="7.2" fill="#089981"/>
<line x1="355.00" y1="335.4" x2="355.00" y2="350.0" stroke="#089981" stroke-width="0.6" opacity="0.85"/>
<rect x="353.86" y="336.3" width="2.3" height="12.7" fill="#089981"/>
<line x1="358.06" y1="326.3" x2="358.06" y2="337.2" stroke="#089981" stroke-width="0.6" opacity="0.85"/>
<rect x="356.91" y="330.3" width="2.3" height="6.0" fill="#089981"/>
<line x1="361.12" y1="326.3" x2="361.12" y2="346.3" stroke="#F23645" stroke-width="0.6" opacity="0.85"/>
<rect x="359.97" y="327.2" width="2.3" height="19.1" fill="#F23645"/>
<line x1="364.18" y1="339.0" x2="364.18" y2="346.3" stroke="#089981" stroke-width="0.6" opacity="0.85"/>
<rect x="363.03" y="340.0" width="2.3" height="5.4" fill="#089981"/>
<line x1="367.23" y1="323.6" x2="367.23" y2="339.0" stroke="#089981" stroke-width="0.6" opacity="0.85"/>
<rect x="366.08" y="324.5" width="2.3" height="14.5" fill="#089981"/>
<line x1="370.29" y1="323.6" x2="370.29" y2="340.8" stroke="#F23645" stroke-width="0.6" opacity="0.85"/>
<rect x="369.14" y="324.5" width="2.3" height="15.5" fill="#F23645"/>
<line x1="373.35" y1="331.7" x2="373.35" y2="344.4" stroke="#089981" stroke-width="0.6" opacity="0.85"/>
<rect x="372.20" y="332.0" width="2.3" height="12.4" fill="#089981"/>
<line x1="376.40" y1="327.2" x2="376.40" y2="336.3" stroke="#089981" stroke-width="0.6" opacity="0.85"/>
<rect x="375.25" y="330.0" width="2.3" height="2.6" fill="#089981"/>
<line x1="379.46" y1="304.0" x2="379.46" y2="320.9" stroke="#089981" stroke-width="0.6" opacity="0.85"/>
<rect x="378.31" y="304.0" width="2.3" height="16.9" fill="#089981"/>
<line x1="382.52" y1="297.3" x2="382.52" y2="304.5" stroke="#089981" stroke-width="0.6" opacity="0.85"/>
<rect x="381.37" y="298.0" width="2.3" height="6.5" fill="#089981"/>
<line x1="385.57" y1="304.5" x2="385.57" y2="319.0" stroke="#089981" stroke-width="0.6" opacity="0.85"/>
<rect x="384.43" y="310.0" width="2.3" height="8.0" fill="#089981"/>
<line x1="388.63" y1="306.3" x2="388.63" y2="319.0" stroke="#F23645" stroke-width="0.6" opacity="0.85"/>
<rect x="387.48" y="310.3" width="2.3" height="7.7" fill="#F23645"/>
<line x1="391.69" y1="307.2" x2="391.69" y2="320.0" stroke="#089981" stroke-width="0.6" opacity="0.85"/>
<rect x="390.54" y="307.8" width="2.3" height="4.9" fill="#089981"/>
<line x1="394.75" y1="301.8" x2="394.75" y2="308.0" stroke="#089981" stroke-width="0.6" opacity="0.85"/>
<rect x="393.60" y="304.5" width="2.3" height="2.7" fill="#089981"/>
<line x1="397.80" y1="301.8" x2="397.80" y2="311.8" stroke="#F23645" stroke-width="0.6" opacity="0.85"/>
<rect x="396.65" y="304.5" width="2.3" height="6.9" fill="#F23645"/>
<line x1="400.86" y1="308.0" x2="400.86" y2="314.5" stroke="#089981" stroke-width="0.6" opacity="0.85"/>
<rect x="399.71" y="309.0" width="2.3" height="2.0" fill="#089981"/>
<line x1="403.92" y1="306.0" x2="403.92" y2="322.7" stroke="#F23645" stroke-width="0.6" opacity="0.85"/>
<rect x="402.77" y="309.6" width="2.3" height="7.6" fill="#F23645"/>
<line x1="406.97" y1="315.4" x2="406.97" y2="325.4" stroke="#F23645" stroke-width="0.6" opacity="0.85"/>
<rect x="405.82" y="317.2" width="2.3" height="3.7" fill="#F23645"/>
<line x1="410.03" y1="315.4" x2="410.03" y2="325.4" stroke="#F23645" stroke-width="0.6" opacity="0.85"/>
<rect x="408.88" y="320.0" width="2.3" height="1.2" fill="#F23645"/>
<line x1="413.09" y1="311.8" x2="413.09" y2="344.4" stroke="#F23645" stroke-width="0.6" opacity="0.85"/>
<rect x="411.94" y="318.0" width="2.3" height="13.0" fill="#F23645"/>
<line x1="416.14" y1="325.0" x2="416.14" y2="345.0" stroke="#F23645" stroke-width="0.6" opacity="0.85"/>
<rect x="415.00" y="326.0" width="2.3" height="17.0" fill="#F23645"/>
<line x1="419.20" y1="342.0" x2="419.20" y2="357.7" stroke="#F23645" stroke-width="0.6" opacity="0.85"/>
<rect x="418.05" y="342.0" width="2.3" height="10.7" fill="#F23645"/>
<line x1="422.26" y1="375.0" x2="422.26" y2="402.0" stroke="#F23645" stroke-width="0.6" opacity="0.85"/>
<rect x="421.11" y="375.5" width="2.3" height="19.5" fill="#F23645"/>
<line x1="425.32" y1="383.0" x2="425.32" y2="397.0" stroke="#089981" stroke-width="0.6" opacity="0.85"/>
<rect x="424.17" y="385.0" width="2.3" height="10.0" fill="#089981"/>
<line x1="428.37" y1="351.7" x2="428.37" y2="377.3" stroke="#089981" stroke-width="0.6" opacity="0.85"/>
<rect x="427.22" y="352.8" width="2.3" height="24.5" fill="#089981"/>
<line x1="431.43" y1="347.8" x2="431.43" y2="356.7" stroke="#089981" stroke-width="0.6" opacity="0.85"/>
<rect x="430.28" y="351.0" width="2.3" height="2.0" fill="#089981"/>
<line x1="434.49" y1="343.0" x2="434.49" y2="366.5" stroke="#089981" stroke-width="0.6" opacity="0.85"/>
<rect x="433.34" y="347.0" width="2.3" height="2.0" fill="#089981"/>
<line x1="437.54" y1="345.9" x2="437.54" y2="355.7" stroke="#F23645" stroke-width="0.6" opacity="0.85"/>
<rect x="436.39" y="347.3" width="2.3" height="7.4" fill="#F23645"/>
<line x1="440.60" y1="344.0" x2="440.60" y2="360.6" stroke="#089981" stroke-width="0.6" opacity="0.85"/>
<rect x="439.45" y="348.0" width="2.3" height="3.0" fill="#089981"/>
<line x1="443.66" y1="344.0" x2="443.66" y2="349.8" stroke="#F23645" stroke-width="0.6" opacity="0.85"/>
<rect x="442.51" y="348.0" width="2.3" height="1.0" fill="#F23645"/>
<line x1="446.71" y1="330.0" x2="446.71" y2="373.4" stroke="#F23645" stroke-width="0.6" opacity="0.85"/>
<rect x="445.56" y="333.0" width="2.3" height="40.4" fill="#F23645"/>
<line x1="449.77" y1="362.6" x2="449.77" y2="373.4" stroke="#089981" stroke-width="0.6" opacity="0.85"/>
<rect x="448.62" y="363.6" width="2.3" height="9.8" fill="#089981"/>
<line x1="452.83" y1="344.5" x2="452.83" y2="358.7" stroke="#089981" stroke-width="0.6" opacity="0.85"/>
<rect x="451.68" y="349.8" width="2.3" height="7.9" fill="#089981"/>
<line x1="455.89" y1="347.8" x2="455.89" y2="351.8" stroke="#089981" stroke-width="0.6" opacity="0.85"/>
<rect x="454.74" y="349.8" width="2.3" height="1.2" fill="#089981"/>
<line x1="458.94" y1="345.0" x2="458.94" y2="362.6" stroke="#F23645" stroke-width="0.6" opacity="0.85"/>
<rect x="457.79" y="349.8" width="2.3" height="11.8" fill="#F23645"/>
<line x1="462.00" y1="358.7" x2="462.00" y2="366.5" stroke="#F23645" stroke-width="0.6" opacity="0.85"/>
<rect x="460.85" y="360.6" width="2.3" height="3.0" fill="#F23645"/>
<line x1="465.06" y1="333.0" x2="465.06" y2="352.8" stroke="#089981" stroke-width="0.6" opacity="0.85"/>
<rect x="463.91" y="335.5" width="2.3" height="16.3" fill="#089981"/>
<line x1="468.11" y1="330.7" x2="468.11" y2="335.0" stroke="#089981" stroke-width="0.6" opacity="0.85"/>
<rect x="466.96" y="332.7" width="2.3" height="1.6" fill="#089981"/>
<line x1="471.17" y1="306.5" x2="471.17" y2="326.2" stroke="#089981" stroke-width="0.6" opacity="0.85"/>
<rect x="470.02" y="313.4" width="2.3" height="12.8" fill="#089981"/>
<line x1="474.23" y1="301.6" x2="474.23" y2="314.4" stroke="#089981" stroke-width="0.6" opacity="0.85"/>
<rect x="473.08" y="303.2" width="2.3" height="10.2" fill="#089981"/>
<line x1="477.28" y1="303.6" x2="477.28" y2="317.4" stroke="#089981" stroke-width="0.6" opacity="0.85"/>
<rect x="476.13" y="309.5" width="2.3" height="2.0" fill="#089981"/>
<line x1="480.34" y1="302.6" x2="480.34" y2="311.5" stroke="#089981" stroke-width="0.6" opacity="0.85"/>
<rect x="479.19" y="304.6" width="2.3" height="5.9" fill="#089981"/>
<line x1="483.40" y1="286.0" x2="483.40" y2="297.7" stroke="#F23645" stroke-width="0.6" opacity="0.85"/>
<rect x="482.25" y="286.0" width="2.3" height="10.7" fill="#F23645"/>
<line x1="486.46" y1="293.0" x2="486.46" y2="302.0" stroke="#F23645" stroke-width="0.6" opacity="0.85"/>
<rect x="485.31" y="296.5" width="2.3" height="5.0" fill="#F23645"/>
<line x1="489.51" y1="299.0" x2="489.51" y2="305.0" stroke="#089981" stroke-width="0.6" opacity="0.85"/>
<rect x="488.36" y="301.9" width="2.3" height="1.3" fill="#089981"/>
<line x1="492.57" y1="300.7" x2="492.57" y2="305.7" stroke="#F23645" stroke-width="0.6" opacity="0.85"/>
<rect x="491.42" y="302.4" width="2.3" height="1.6" fill="#F23645"/>
<line x1="495.63" y1="285.7" x2="495.63" y2="306.5" stroke="#F23645" stroke-width="0.6" opacity="0.85"/>
<rect x="494.48" y="301.2" width="2.3" height="2.0" fill="#F23645"/>
<line x1="498.68" y1="302.4" x2="498.68" y2="309.8" stroke="#089981" stroke-width="0.6" opacity="0.85"/>
<rect x="497.53" y="303.2" width="2.3" height="1.0" fill="#089981"/>
<line x1="501.74" y1="296.5" x2="501.74" y2="312.3" stroke="#F23645" stroke-width="0.6" opacity="0.85"/>
<rect x="500.59" y="303.5" width="2.3" height="3.0" fill="#F23645"/>
<line x1="504.80" y1="297.4" x2="504.80" y2="310.7" stroke="#089981" stroke-width="0.6" opacity="0.85"/>
<rect x="503.65" y="304.0" width="2.3" height="2.5" fill="#089981"/>
<line x1="507.85" y1="305.7" x2="507.85" y2="324.0" stroke="#F23645" stroke-width="0.6" opacity="0.85"/>
<rect x="506.70" y="312.8" width="2.3" height="5.4" fill="#F23645"/>
<line x1="510.91" y1="309.0" x2="510.91" y2="318.2" stroke="#089981" stroke-width="0.6" opacity="0.85"/>
<rect x="509.76" y="311.5" width="2.3" height="6.7" fill="#089981"/>
<line x1="513.97" y1="250.8" x2="513.97" y2="301.5" stroke="#089981" stroke-width="0.6" opacity="0.85"/>
<rect x="512.82" y="255.0" width="2.3" height="46.5" fill="#089981"/>
<line x1="517.03" y1="254.0" x2="517.03" y2="260.0" stroke="#F23645" stroke-width="0.6" opacity="0.85"/>
<rect x="515.88" y="255.0" width="2.3" height="4.0" fill="#F23645"/>
<line x1="520.08" y1="260.8" x2="520.08" y2="275.0" stroke="#F23645" stroke-width="0.6" opacity="0.85"/>
<rect x="518.93" y="263.6" width="2.3" height="10.4" fill="#F23645"/>
<line x1="523.14" y1="273.2" x2="523.14" y2="281.6" stroke="#F23645" stroke-width="0.6" opacity="0.85"/>
<rect x="521.99" y="274.0" width="2.3" height="6.7" fill="#F23645"/>
<line x1="526.20" y1="278.2" x2="526.20" y2="285.0" stroke="#089981" stroke-width="0.6" opacity="0.85"/>
<rect x="525.05" y="279.0" width="2.3" height="5.0" fill="#089981"/>
<line x1="529.25" y1="271.6" x2="529.25" y2="280.7" stroke="#089981" stroke-width="0.6" opacity="0.85"/>
<rect x="528.10" y="272.4" width="2.3" height="6.6" fill="#089981"/>
<line x1="532.31" y1="263.6" x2="532.31" y2="273.2" stroke="#089981" stroke-width="0.6" opacity="0.85"/>
<rect x="531.16" y="264.6" width="2.3" height="8.4" fill="#089981"/>
<line x1="535.37" y1="259.6" x2="535.37" y2="265.0" stroke="#089981" stroke-width="0.6" opacity="0.85"/>
<rect x="534.22" y="263.0" width="2.3" height="1.6" fill="#089981"/>
<line x1="538.43" y1="259.6" x2="538.43" y2="270.7" stroke="#F23645" stroke-width="0.6" opacity="0.85"/>
<rect x="537.28" y="261.3" width="2.3" height="1.7" fill="#F23645"/>
<line x1="541.48" y1="255.3" x2="541.48" y2="263.3" stroke="#089981" stroke-width="0.6" opacity="0.85"/>
<rect x="540.33" y="258.6" width="2.3" height="3.8" fill="#089981"/>
<line x1="544.54" y1="260.0" x2="544.54" y2="274.0" stroke="#F23645" stroke-width="0.6" opacity="0.85"/>
<rect x="543.39" y="263.3" width="2.3" height="4.1" fill="#F23645"/>
<line x1="547.60" y1="263.0" x2="547.60" y2="268.3" stroke="#089981" stroke-width="0.6" opacity="0.85"/>
<rect x="546.45" y="263.6" width="2.3" height="3.8" fill="#089981"/>
<line x1="550.65" y1="280.7" x2="550.65" y2="301.5" stroke="#089981" stroke-width="0.6" opacity="0.85"/>
<rect x="549.50" y="289.5" width="2.3" height="1.2" fill="#089981"/>
<line x1="553.71" y1="279.9" x2="553.71" y2="290.0" stroke="#089981" stroke-width="0.6" opacity="0.85"/>
<rect x="552.56" y="280.7" width="2.3" height="8.8" fill="#089981"/>
<line x1="556.77" y1="279.0" x2="556.77" y2="294.9" stroke="#F23645" stroke-width="0.6" opacity="0.85"/>
<rect x="555.62" y="279.0" width="2.3" height="13.0" fill="#F23645"/>
<line x1="559.82" y1="281.6" x2="559.82" y2="299.0" stroke="#089981" stroke-width="0.6" opacity="0.85"/>
<rect x="558.67" y="282.4" width="2.3" height="9.6" fill="#089981"/>
<line x1="562.88" y1="260.0" x2="562.88" y2="285.7" stroke="#089981" stroke-width="0.6" opacity="0.85"/>
<rect x="561.73" y="265.7" width="2.3" height="17.8" fill="#089981"/>
<line x1="565.94" y1="259.0" x2="565.94" y2="266.5" stroke="#089981" stroke-width="0.6" opacity="0.85"/>
<rect x="564.79" y="260.0" width="2.3" height="5.7" fill="#089981"/>
<line x1="569.00" y1="250.0" x2="569.00" y2="284.8" stroke="#F23645" stroke-width="0.6" opacity="0.85"/>
<rect x="567.85" y="255.7" width="2.3" height="20.8" fill="#F23645"/>
<line x1="572.05" y1="270.0" x2="572.05" y2="280.7" stroke="#089981" stroke-width="0.6" opacity="0.85"/>
<rect x="570.90" y="274.0" width="2.3" height="3.4" fill="#089981"/>
<line x1="575.11" y1="267.4" x2="575.11" y2="280.7" stroke="#089981" stroke-width="0.6" opacity="0.85"/>
<rect x="573.96" y="271.5" width="2.3" height="1.7" fill="#089981"/>
<line x1="578.17" y1="264.9" x2="578.17" y2="278.2" stroke="#089981" stroke-width="0.6" opacity="0.85"/>
<rect x="577.02" y="265.7" width="2.3" height="6.7" fill="#089981"/>
<line x1="581.22" y1="255.7" x2="581.22" y2="271.5" stroke="#089981" stroke-width="0.6" opacity="0.85"/>
<rect x="580.07" y="256.6" width="2.3" height="7.4" fill="#089981"/>
<line x1="584.28" y1="250.7" x2="584.28" y2="257.4" stroke="#089981" stroke-width="0.6" opacity="0.85"/>
<rect x="583.13" y="254.0" width="2.3" height="2.6" fill="#089981"/>
<line x1="587.34" y1="252.4" x2="587.34" y2="274.0" stroke="#F23645" stroke-width="0.6" opacity="0.85"/>
<rect x="586.19" y="253.0" width="2.3" height="16.0" fill="#F23645"/>
<line x1="590.39" y1="265.7" x2="590.39" y2="274.0" stroke="#089981" stroke-width="0.6" opacity="0.85"/>
<rect x="589.24" y="266.9" width="2.3" height="2.1" fill="#089981"/>
<line x1="593.45" y1="228.3" x2="593.45" y2="260.7" stroke="#089981" stroke-width="0.6" opacity="0.85"/>
<rect x="592.30" y="231.6" width="2.3" height="29.1" fill="#089981"/>
<line x1="596.51" y1="228.3" x2="596.51" y2="231.6" stroke="#089981" stroke-width="0.6" opacity="0.85"/>
<rect x="595.36" y="229.0" width="2.3" height="1.8" fill="#089981"/>
<line x1="599.57" y1="231.6" x2="599.57" y2="240.0" stroke="#F23645" stroke-width="0.6" opacity="0.85"/>
<rect x="598.42" y="234.0" width="2.3" height="5.0" fill="#F23645"/>
<line x1="602.62" y1="237.4" x2="602.62" y2="246.6" stroke="#F23645" stroke-width="0.6" opacity="0.85"/>
<rect x="601.47" y="239.0" width="2.3" height="6.7" fill="#F23645"/>
<line x1="605.68" y1="238.3" x2="605.68" y2="248.2" stroke="#F23645" stroke-width="0.6" opacity="0.85"/>
<rect x="604.53" y="242.4" width="2.3" height="5.0" fill="#F23645"/>
<line x1="608.74" y1="241.6" x2="608.74" y2="248.2" stroke="#089981" stroke-width="0.6" opacity="0.85"/>
<rect x="607.59" y="242.4" width="2.3" height="5.0" fill="#089981"/>
<line x1="611.79" y1="237.4" x2="611.79" y2="255.7" stroke="#F23645" stroke-width="0.6" opacity="0.85"/>
<rect x="610.64" y="240.0" width="2.3" height="10.0" fill="#F23645"/>
<line x1="614.85" y1="249.0" x2="614.85" y2="251.6" stroke="#F23645" stroke-width="0.6" opacity="0.85"/>
<rect x="613.70" y="250.0" width="2.3" height="1.2" fill="#F23645"/>
<line x1="617.91" y1="230.0" x2="617.91" y2="245.0" stroke="#089981" stroke-width="0.6" opacity="0.85"/>
<rect x="616.76" y="236.6" width="2.3" height="7.4" fill="#089981"/>
<line x1="620.96" y1="219.0" x2="620.96" y2="254.9" stroke="#089981" stroke-width="0.6" opacity="0.85"/>
<rect x="619.81" y="234.6" width="2.3" height="1.7" fill="#089981"/>
<line x1="624.02" y1="215.0" x2="624.02" y2="237.4" stroke="#089981" stroke-width="0.6" opacity="0.85"/>
<rect x="622.87" y="223.3" width="2.3" height="12.5" fill="#089981"/>
<line x1="627.08" y1="222.4" x2="627.08" y2="228.3" stroke="#F23645" stroke-width="0.6" opacity="0.85"/>
<rect x="625.93" y="223.3" width="2.3" height="2.5" fill="#F23645"/>
<line x1="630.13" y1="215.8" x2="630.13" y2="228.3" stroke="#F23645" stroke-width="0.6" opacity="0.85"/>
<rect x="628.99" y="216.3" width="2.3" height="1.2" fill="#F23645"/>
<line x1="633.19" y1="210.0" x2="633.19" y2="217.5" stroke="#089981" stroke-width="0.6" opacity="0.85"/>
<rect x="632.04" y="215.8" width="2.3" height="1.2" fill="#089981"/>
<line x1="636.25" y1="209.0" x2="636.25" y2="230.0" stroke="#089981" stroke-width="0.6" opacity="0.85"/>
<rect x="635.10" y="210.0" width="2.3" height="16.8" fill="#089981"/>
<line x1="639.31" y1="209.0" x2="639.31" y2="212.6" stroke="#F23645" stroke-width="0.6" opacity="0.85"/>
<rect x="638.16" y="210.0" width="2.3" height="1.7" fill="#F23645"/>
<line x1="642.36" y1="190.8" x2="642.36" y2="215.4" stroke="#F23645" stroke-width="0.6" opacity="0.85"/>
<rect x="641.21" y="207.5" width="2.3" height="6.9" fill="#F23645"/>
<line x1="645.42" y1="213.5" x2="645.42" y2="217.2" stroke="#F23645" stroke-width="0.6" opacity="0.85"/>
<rect x="644.27" y="214.4" width="2.3" height="1.9" fill="#F23645"/>
<line x1="648.48" y1="207.2" x2="648.48" y2="228.0" stroke="#F23645" stroke-width="0.6" opacity="0.85"/>
<rect x="647.33" y="212.3" width="2.3" height="10.3" fill="#F23645"/>
<line x1="651.53" y1="221.7" x2="651.53" y2="229.0" stroke="#F23645" stroke-width="0.6" opacity="0.85"/>
<rect x="650.38" y="223.2" width="2.3" height="5.4" fill="#F23645"/>
<line x1="654.59" y1="229.0" x2="654.59" y2="241.7" stroke="#F23645" stroke-width="0.6" opacity="0.85"/>
<rect x="653.44" y="235.9" width="2.3" height="3.1" fill="#F23645"/>
<line x1="657.65" y1="236.2" x2="657.65" y2="249.0" stroke="#F23645" stroke-width="0.6" opacity="0.85"/>
<rect x="656.50" y="237.7" width="2.3" height="1.3" fill="#F23645"/>
<line x1="660.71" y1="212.6" x2="660.71" y2="230.8" stroke="#089981" stroke-width="0.6" opacity="0.85"/>
<rect x="659.56" y="215.4" width="2.3" height="14.5" fill="#089981"/>
<line x1="663.76" y1="215.4" x2="663.76" y2="223.5" stroke="#089981" stroke-width="0.6" opacity="0.85"/>
<rect x="662.61" y="216.3" width="2.3" height="3.7" fill="#089981"/>
<line x1="666.82" y1="210.8" x2="666.82" y2="225.3" stroke="#F23645" stroke-width="0.6" opacity="0.85"/>
<rect x="665.67" y="216.3" width="2.3" height="8.1" fill="#F23645"/>
<line x1="669.88" y1="214.4" x2="669.88" y2="225.3" stroke="#089981" stroke-width="0.6" opacity="0.85"/>
<rect x="668.73" y="215.4" width="2.3" height="9.0" fill="#089981"/>
<line x1="672.93" y1="210.8" x2="672.93" y2="228.0" stroke="#F23645" stroke-width="0.6" opacity="0.85"/>
<rect x="671.78" y="217.7" width="2.3" height="7.6" fill="#F23645"/>
<line x1="675.99" y1="210.0" x2="675.99" y2="226.2" stroke="#089981" stroke-width="0.6" opacity="0.85"/>
<rect x="674.84" y="210.5" width="2.3" height="14.8" fill="#089981"/>
<line x1="679.05" y1="202.6" x2="679.05" y2="212.6" stroke="#089981" stroke-width="0.6" opacity="0.85"/>
<rect x="677.90" y="208.0" width="2.3" height="3.7" fill="#089981"/>
<line x1="682.10" y1="202.6" x2="682.10" y2="210.0" stroke="#089981" stroke-width="0.6" opacity="0.85"/>
<rect x="680.95" y="207.5" width="2.3" height="1.5" fill="#089981"/>
<line x1="685.16" y1="199.0" x2="685.16" y2="217.2" stroke="#F23645" stroke-width="0.6" opacity="0.85"/>
<rect x="684.01" y="207.5" width="2.3" height="1.5" fill="#F23645"/>
<line x1="688.22" y1="198.0" x2="688.22" y2="209.0" stroke="#089981" stroke-width="0.6" opacity="0.85"/>
<rect x="687.07" y="202.0" width="2.3" height="6.6" fill="#089981"/>
<line x1="691.27" y1="170.0" x2="691.27" y2="199.0" stroke="#089981" stroke-width="0.6" opacity="0.85"/>
<rect x="690.12" y="176.0" width="2.3" height="22.0" fill="#089981"/>
<line x1="694.33" y1="175.4" x2="694.33" y2="188.0" stroke="#F23645" stroke-width="0.6" opacity="0.85"/>
<rect x="693.18" y="176.0" width="2.3" height="11.2" fill="#F23645"/>
<line x1="697.39" y1="182.7" x2="697.39" y2="208.0" stroke="#F23645" stroke-width="0.6" opacity="0.85"/>
<rect x="696.24" y="186.3" width="2.3" height="6.4" fill="#F23645"/>
<line x1="700.45" y1="189.0" x2="700.45" y2="192.7" stroke="#089981" stroke-width="0.6" opacity="0.85"/>
<rect x="699.30" y="190.0" width="2.3" height="1.8" fill="#089981"/>
<line x1="703.50" y1="180.3" x2="703.50" y2="206.3" stroke="#F23645" stroke-width="0.6" opacity="0.85"/>
<rect x="702.35" y="191.2" width="2.3" height="9.6" fill="#F23645"/>
<line x1="706.56" y1="196.3" x2="706.56" y2="203.6" stroke="#089981" stroke-width="0.6" opacity="0.85"/>
<rect x="705.41" y="197.2" width="2.3" height="3.6" fill="#089981"/>
<line x1="709.62" y1="183.6" x2="709.62" y2="203.6" stroke="#089981" stroke-width="0.6" opacity="0.85"/>
<rect x="708.47" y="188.7" width="2.3" height="5.8" fill="#089981"/>
<line x1="712.67" y1="187.2" x2="712.67" y2="198.0" stroke="#F23645" stroke-width="0.6" opacity="0.85"/>
<rect x="711.52" y="188.7" width="2.3" height="8.5" fill="#F23645"/>
<line x1="715.73" y1="192.7" x2="715.73" y2="215.4" stroke="#F23645" stroke-width="0.6" opacity="0.85"/>
<rect x="714.58" y="194.5" width="2.3" height="19.9" fill="#F23645"/>
<line x1="718.79" y1="211.7" x2="718.79" y2="216.3" stroke="#089981" stroke-width="0.6" opacity="0.85"/>
<rect x="717.64" y="212.6" width="2.3" height="2.2" fill="#089981"/>
<line x1="721.85" y1="195.4" x2="721.85" y2="253.5" stroke="#F23645" stroke-width="0.6" opacity="0.85"/>
<rect x="720.70" y="210.8" width="2.3" height="37.2" fill="#F23645"/>
<line x1="724.90" y1="247.0" x2="724.90" y2="269.0" stroke="#F23645" stroke-width="0.6" opacity="0.85"/>
<rect x="723.75" y="248.0" width="2.3" height="20.0" fill="#F23645"/>
<line x1="727.96" y1="226.2" x2="727.96" y2="255.3" stroke="#089981" stroke-width="0.6" opacity="0.85"/>
<rect x="726.81" y="232.6" width="2.3" height="21.8" fill="#089981"/>
<line x1="731.02" y1="228.0" x2="731.02" y2="234.4" stroke="#089981" stroke-width="0.6" opacity="0.85"/>
<rect x="729.87" y="231.0" width="2.3" height="2.5" fill="#089981"/>
<line x1="734.07" y1="205.4" x2="734.07" y2="269.0" stroke="#089981" stroke-width="0.6" opacity="0.85"/>
<rect x="732.92" y="206.3" width="2.3" height="37.2" fill="#089981"/>
<line x1="737.13" y1="202.6" x2="737.13" y2="222.6" stroke="#F23645" stroke-width="0.6" opacity="0.85"/>
<rect x="735.98" y="206.8" width="2.3" height="11.2" fill="#F23645"/>
<line x1="740.19" y1="191.8" x2="740.19" y2="233.5" stroke="#F23645" stroke-width="0.6" opacity="0.85"/>
<rect x="739.04" y="208.0" width="2.3" height="19.0" fill="#F23645"/>
<line x1="743.24" y1="218.0" x2="743.24" y2="227.2" stroke="#089981" stroke-width="0.6" opacity="0.85"/>
<rect x="742.09" y="219.0" width="2.3" height="7.2" fill="#089981"/>
<line x1="746.30" y1="208.6" x2="746.30" y2="239.8" stroke="#F23645" stroke-width="0.6" opacity="0.85"/>
<rect x="745.15" y="214.0" width="2.3" height="11.3" fill="#F23645"/>
<line x1="749.36" y1="222.6" x2="749.36" y2="247.0" stroke="#F23645" stroke-width="0.6" opacity="0.85"/>
<rect x="748.21" y="225.0" width="2.3" height="13.0" fill="#F23645"/>
<line x1="752.42" y1="222.6" x2="752.42" y2="245.3" stroke="#089981" stroke-width="0.6" opacity="0.85"/>
<rect x="751.27" y="232.2" width="2.3" height="12.2" fill="#089981"/>
<line x1="755.47" y1="215.4" x2="755.47" y2="232.6" stroke="#089981" stroke-width="0.6" opacity="0.85"/>
<rect x="754.32" y="224.0" width="2.3" height="8.6" fill="#089981"/>
<line x1="758.53" y1="192.7" x2="758.53" y2="213.5" stroke="#089981" stroke-width="0.6" opacity="0.85"/>
<rect x="757.38" y="193.6" width="2.3" height="19.0" fill="#089981"/>
<line x1="761.59" y1="189.0" x2="761.59" y2="194.5" stroke="#089981" stroke-width="0.6" opacity="0.85"/>
<rect x="760.44" y="191.2" width="2.3" height="2.4" fill="#089981"/>
<line x1="764.64" y1="164.5" x2="764.64" y2="191.8" stroke="#089981" stroke-width="0.6" opacity="0.85"/>
<rect x="763.49" y="173.0" width="2.3" height="17.8" fill="#089981"/>
<line x1="767.70" y1="169.0" x2="767.70" y2="178.0" stroke="#F23645" stroke-width="0.6" opacity="0.85"/>
<rect x="766.55" y="173.0" width="2.3" height="4.2" fill="#F23645"/>
<line x1="770.76" y1="176.3" x2="770.76" y2="203.6" stroke="#F23645" stroke-width="0.6" opacity="0.85"/>
<rect x="769.61" y="177.2" width="2.3" height="21.8" fill="#F23645"/>
<line x1="773.81" y1="195.4" x2="773.81" y2="205.4" stroke="#089981" stroke-width="0.6" opacity="0.85"/>
<rect x="772.66" y="197.7" width="2.3" height="1.9" fill="#089981"/>
<line x1="776.87" y1="190.8" x2="776.87" y2="203.6" stroke="#089981" stroke-width="0.6" opacity="0.85"/>
<rect x="775.72" y="191.8" width="2.3" height="10.8" fill="#089981"/>
<line x1="779.93" y1="185.4" x2="779.93" y2="192.7" stroke="#089981" stroke-width="0.6" opacity="0.85"/>
<rect x="778.78" y="189.4" width="2.3" height="2.4" fill="#089981"/>
<line x1="782.99" y1="151.3" x2="782.99" y2="175.0" stroke="#089981" stroke-width="0.6" opacity="0.85"/>
<rect x="781.84" y="155.0" width="2.3" height="19.0" fill="#089981"/>
<line x1="786.04" y1="154.0" x2="786.04" y2="160.3" stroke="#F23645" stroke-width="0.6" opacity="0.85"/>
<rect x="784.89" y="155.0" width="2.3" height="4.4" fill="#F23645"/>
<line x1="789.10" y1="138.6" x2="789.10" y2="147.6" stroke="#F23645" stroke-width="0.6" opacity="0.85"/>
<rect x="787.95" y="145.0" width="2.3" height="1.7" fill="#F23645"/>
<line x1="792.16" y1="136.7" x2="792.16" y2="147.6" stroke="#089981" stroke-width="0.6" opacity="0.85"/>
<rect x="791.01" y="137.6" width="2.3" height="9.1" fill="#089981"/>
<line x1="795.21" y1="113.0" x2="795.21" y2="128.6" stroke="#089981" stroke-width="0.6" opacity="0.85"/>
<rect x="794.06" y="116.8" width="2.3" height="8.2" fill="#089981"/>
<line x1="798.27" y1="115.0" x2="798.27" y2="128.6" stroke="#F23645" stroke-width="0.6" opacity="0.85"/>
<rect x="797.12" y="116.8" width="2.3" height="10.9" fill="#F23645"/>
<line x1="801.33" y1="106.8" x2="801.33" y2="125.0" stroke="#089981" stroke-width="0.6" opacity="0.85"/>
<rect x="800.18" y="116.8" width="2.3" height="7.2" fill="#089981"/>
<line x1="804.38" y1="115.9" x2="804.38" y2="143.0" stroke="#F23645" stroke-width="0.6" opacity="0.85"/>
<rect x="803.23" y="116.8" width="2.3" height="14.5" fill="#F23645"/>
<line x1="807.44" y1="109.5" x2="807.44" y2="147.6" stroke="#089981" stroke-width="0.6" opacity="0.85"/>
<rect x="806.29" y="122.2" width="2.3" height="21.8" fill="#089981"/>
<line x1="810.50" y1="121.3" x2="810.50" y2="140.4" stroke="#F23645" stroke-width="0.6" opacity="0.85"/>
<rect x="809.35" y="121.9" width="2.3" height="17.6" fill="#F23645"/>
<line x1="813.56" y1="130.4" x2="813.56" y2="149.4" stroke="#F23645" stroke-width="0.6" opacity="0.85"/>
<rect x="812.41" y="134.0" width="2.3" height="15.0" fill="#F23645"/>
<line x1="816.61" y1="126.8" x2="816.61" y2="149.4" stroke="#089981" stroke-width="0.6" opacity="0.85"/>
<rect x="815.46" y="136.7" width="2.3" height="12.3" fill="#089981"/>
<line x1="819.67" y1="127.7" x2="819.67" y2="163.0" stroke="#F23645" stroke-width="0.6" opacity="0.85"/>
<rect x="818.52" y="128.6" width="2.3" height="22.7" fill="#F23645"/>
<line x1="822.73" y1="146.7" x2="822.73" y2="153.0" stroke="#089981" stroke-width="0.6" opacity="0.85"/>
<rect x="821.58" y="150.4" width="2.3" height="1.8" fill="#089981"/>
<line x1="825.78" y1="155.0" x2="825.78" y2="179.4" stroke="#089981" stroke-width="0.6" opacity="0.85"/>
<rect x="824.63" y="169.0" width="2.3" height="1.3" fill="#089981"/>
<line x1="828.84" y1="163.0" x2="828.84" y2="174.8" stroke="#089981" stroke-width="0.6" opacity="0.85"/>
<rect x="827.69" y="166.7" width="2.3" height="3.6" fill="#089981"/>
<line x1="831.90" y1="143.0" x2="831.90" y2="166.7" stroke="#089981" stroke-width="0.6" opacity="0.85"/>
<rect x="830.75" y="148.0" width="2.3" height="17.8" fill="#089981"/>
<line x1="834.95" y1="144.0" x2="834.95" y2="153.0" stroke="#F23645" stroke-width="0.6" opacity="0.85"/>
<rect x="833.80" y="148.0" width="2.3" height="4.7" fill="#F23645"/>
<line x1="838.01" y1="149.4" x2="838.01" y2="184.8" stroke="#F23645" stroke-width="0.6" opacity="0.85"/>
<rect x="836.86" y="157.6" width="2.3" height="21.2" fill="#F23645"/>
<line x1="841.07" y1="165.8" x2="841.07" y2="180.3" stroke="#089981" stroke-width="0.6" opacity="0.85"/>
<rect x="839.92" y="177.6" width="2.3" height="1.8" fill="#089981"/>
<line x1="844.12" y1="180.3" x2="844.12" y2="203.9" stroke="#F23645" stroke-width="0.6" opacity="0.85"/>
<rect x="842.98" y="186.6" width="2.3" height="3.7" fill="#F23645"/>
<line x1="847.18" y1="172.1" x2="847.18" y2="193.0" stroke="#089981" stroke-width="0.6" opacity="0.85"/>
<rect x="846.03" y="173.0" width="2.3" height="17.3" fill="#089981"/>
<line x1="850.24" y1="152.2" x2="850.24" y2="174.8" stroke="#089981" stroke-width="0.6" opacity="0.85"/>
<rect x="849.09" y="157.6" width="2.3" height="8.2" fill="#089981"/>
<line x1="853.30" y1="146.7" x2="853.30" y2="158.5" stroke="#089981" stroke-width="0.6" opacity="0.85"/>
<rect x="852.15" y="149.0" width="2.3" height="8.6" fill="#089981"/>
<line x1="856.35" y1="114.0" x2="856.35" y2="145.8" stroke="#089981" stroke-width="0.6" opacity="0.85"/>
<rect x="855.20" y="115.0" width="2.3" height="30.0" fill="#089981"/>
<line x1="859.41" y1="110.8" x2="859.41" y2="119.0" stroke="#089981" stroke-width="0.6" opacity="0.85"/>
<rect x="858.26" y="112.4" width="2.3" height="1.8" fill="#089981"/>
<line x1="862.47" y1="81.8" x2="862.47" y2="105.4" stroke="#089981" stroke-width="0.6" opacity="0.85"/>
<rect x="861.32" y="89.0" width="2.3" height="15.5" fill="#089981"/>
<line x1="865.52" y1="87.2" x2="865.52" y2="93.6" stroke="#F23645" stroke-width="0.6" opacity="0.85"/>
<rect x="864.37" y="89.0" width="2.3" height="4.2" fill="#F23645"/>
<line x1="868.58" y1="94.5" x2="868.58" y2="129.0" stroke="#F23645" stroke-width="0.6" opacity="0.85"/>
<rect x="867.43" y="100.5" width="2.3" height="28.5" fill="#F23645"/>
<line x1="871.64" y1="128.0" x2="871.64" y2="145.3" stroke="#F23645" stroke-width="0.6" opacity="0.85"/>
<rect x="870.49" y="129.0" width="2.3" height="15.4" fill="#F23645"/>
<line x1="874.70" y1="147.7" x2="874.70" y2="180.4" stroke="#089981" stroke-width="0.6" opacity="0.85"/>
<rect x="873.55" y="156.8" width="2.3" height="1.5" fill="#089981"/>
<line x1="877.75" y1="151.7" x2="877.75" y2="164.0" stroke="#F23645" stroke-width="0.6" opacity="0.85"/>
<rect x="876.60" y="156.8" width="2.3" height="6.5" fill="#F23645"/>
<line x1="880.81" y1="164.4" x2="880.81" y2="177.7" stroke="#F23645" stroke-width="0.6" opacity="0.85"/>
<rect x="879.66" y="167.7" width="2.3" height="9.1" fill="#F23645"/>
<line x1="883.87" y1="175.8" x2="883.87" y2="206.7" stroke="#F23645" stroke-width="0.6" opacity="0.85"/>
<rect x="882.72" y="176.8" width="2.3" height="20.8" fill="#F23645"/>
<line x1="886.92" y1="210.3" x2="886.92" y2="239.4" stroke="#F23645" stroke-width="0.6" opacity="0.85"/>
<rect x="885.77" y="211.2" width="2.3" height="7.3" fill="#F23645"/>
<line x1="889.98" y1="212.2" x2="889.98" y2="230.3" stroke="#F23645" stroke-width="0.6" opacity="0.85"/>
<rect x="888.83" y="218.5" width="2.3" height="10.9" fill="#F23645"/>
<line x1="893.04" y1="221.2" x2="893.04" y2="240.3" stroke="#F23645" stroke-width="0.6" opacity="0.85"/>
<rect x="891.89" y="228.8" width="2.3" height="3.2" fill="#F23645"/>
<line x1="896.09" y1="223.0" x2="896.09" y2="240.3" stroke="#089981" stroke-width="0.6" opacity="0.85"/>
<rect x="894.94" y="227.6" width="2.3" height="4.4" fill="#089981"/>
<line x1="899.15" y1="181.3" x2="899.15" y2="252.0" stroke="#F23645" stroke-width="0.6" opacity="0.85"/>
<rect x="898.00" y="199.4" width="2.3" height="33.6" fill="#F23645"/>
<line x1="902.21" y1="233.0" x2="902.21" y2="252.0" stroke="#F23645" stroke-width="0.6" opacity="0.85"/>
<rect x="901.06" y="233.6" width="2.3" height="16.7" fill="#F23645"/>
<line x1="905.26" y1="203.0" x2="905.26" y2="248.4" stroke="#089981" stroke-width="0.6" opacity="0.85"/>
<rect x="904.12" y="217.6" width="2.3" height="29.9" fill="#089981"/>
<line x1="908.32" y1="198.5" x2="908.32" y2="220.3" stroke="#F23645" stroke-width="0.6" opacity="0.85"/>
<rect x="907.17" y="217.6" width="2.3" height="1.8" fill="#F23645"/>
<line x1="911.38" y1="198.5" x2="911.38" y2="228.5" stroke="#089981" stroke-width="0.6" opacity="0.85"/>
<rect x="910.23" y="201.3" width="2.3" height="10.9" fill="#089981"/>
<line x1="914.44" y1="198.5" x2="914.44" y2="207.6" stroke="#F23645" stroke-width="0.6" opacity="0.85"/>
<rect x="913.29" y="201.3" width="2.3" height="5.4" fill="#F23645"/>
<line x1="917.49" y1="160.4" x2="917.49" y2="213.0" stroke="#089981" stroke-width="0.6" opacity="0.85"/>
<rect x="916.34" y="172.2" width="2.3" height="26.3" fill="#089981"/>
<line x1="920.55" y1="161.3" x2="920.55" y2="173.0" stroke="#089981" stroke-width="0.6" opacity="0.85"/>
<rect x="919.40" y="165.0" width="2.3" height="7.2" fill="#089981"/>
<line x1="923.61" y1="136.3" x2="923.61" y2="160.7" stroke="#089981" stroke-width="0.6" opacity="0.85"/>
<rect x="922.46" y="139.0" width="2.3" height="20.8" fill="#089981"/>
<line x1="926.66" y1="138.0" x2="926.66" y2="146.2" stroke="#F23645" stroke-width="0.6" opacity="0.85"/>
<rect x="925.51" y="139.0" width="2.3" height="7.2" fill="#F23645"/>
<line x1="929.72" y1="125.3" x2="929.72" y2="140.8" stroke="#089981" stroke-width="0.6" opacity="0.85"/>
<rect x="928.57" y="127.2" width="2.3" height="13.3" fill="#089981"/>
<line x1="932.78" y1="130.0" x2="932.78" y2="150.0" stroke="#089981" stroke-width="0.6" opacity="0.85"/>
<rect x="931.63" y="138.0" width="2.3" height="6.4" fill="#089981"/>
<line x1="935.84" y1="137.0" x2="935.84" y2="155.0" stroke="#F23645" stroke-width="0.6" opacity="0.85"/>
<rect x="934.69" y="138.0" width="2.3" height="11.0" fill="#F23645"/>
<line x1="938.89" y1="134.4" x2="938.89" y2="155.0" stroke="#F23645" stroke-width="0.6" opacity="0.85"/>
<rect x="937.74" y="143.5" width="2.3" height="6.3" fill="#F23645"/>
<line x1="941.95" y1="135.3" x2="941.95" y2="150.7" stroke="#089981" stroke-width="0.6" opacity="0.85"/>
<rect x="940.80" y="142.2" width="2.3" height="7.6" fill="#089981"/>
<line x1="945.01" y1="118.0" x2="945.01" y2="149.8" stroke="#089981" stroke-width="0.6" opacity="0.85"/>
<rect x="943.86" y="118.6" width="2.3" height="30.4" fill="#089981"/>
<line x1="948.06" y1="111.7" x2="948.06" y2="119.0" stroke="#089981" stroke-width="0.6" opacity="0.85"/>
<rect x="946.91" y="116.2" width="2.3" height="2.4" fill="#089981"/>
<line x1="951.12" y1="106.3" x2="951.12" y2="117.2" stroke="#089981" stroke-width="0.6" opacity="0.85"/>
<rect x="949.97" y="113.0" width="2.3" height="3.2" fill="#089981"/>
<line x1="954.18" y1="112.6" x2="954.18" y2="128.0" stroke="#F23645" stroke-width="0.6" opacity="0.85"/>
<rect x="953.03" y="113.0" width="2.3" height="5.6" fill="#F23645"/>
<line x1="957.23" y1="100.6" x2="957.23" y2="117.6" stroke="#089981" stroke-width="0.6" opacity="0.85"/>
<rect x="956.08" y="106.8" width="2.3" height="10.4" fill="#089981"/>
<line x1="960.29" y1="106.0" x2="960.29" y2="112.8" stroke="#F23645" stroke-width="0.6" opacity="0.85"/>
<rect x="959.14" y="106.8" width="2.3" height="5.2" fill="#F23645"/>
<line x1="963.35" y1="110.8" x2="963.35" y2="130.7" stroke="#F23645" stroke-width="0.6" opacity="0.85"/>
<rect x="962.20" y="111.0" width="2.3" height="19.7" fill="#F23645"/>
<line x1="966.40" y1="124.5" x2="966.40" y2="133.0" stroke="#089981" stroke-width="0.6" opacity="0.85"/>
<rect x="965.25" y="125.2" width="2.3" height="5.5" fill="#089981"/>
<line x1="969.46" y1="111.7" x2="969.46" y2="133.0" stroke="#F23645" stroke-width="0.6" opacity="0.85"/>
<rect x="968.31" y="126.0" width="2.3" height="6.6" fill="#F23645"/>
<line x1="972.52" y1="131.7" x2="972.52" y2="138.0" stroke="#F23645" stroke-width="0.6" opacity="0.85"/>
<rect x="971.37" y="132.6" width="2.3" height="4.6" fill="#F23645"/>
<line x1="975.58" y1="121.0" x2="975.58" y2="142.0" stroke="#089981" stroke-width="0.6" opacity="0.85"/>
<rect x="974.43" y="125.0" width="2.3" height="12.3" fill="#089981"/>
<line x1="978.63" y1="97.0" x2="978.63" y2="128.0" stroke="#089981" stroke-width="0.6" opacity="0.85"/>
<rect x="977.48" y="105.4" width="2.3" height="19.6" fill="#089981"/>
<line x1="981.69" y1="62.6" x2="981.69" y2="102.6" stroke="#089981" stroke-width="0.6" opacity="0.85"/>
<rect x="980.54" y="66.8" width="2.3" height="35.2" fill="#089981"/>
<line x1="984.75" y1="61.0" x2="984.75" y2="67.2" stroke="#089981" stroke-width="0.6" opacity="0.85"/>
<rect x="983.60" y="64.3" width="2.3" height="2.7" fill="#089981"/>
<line x1="0" y1="530" x2="49" y2="570.5" stroke="#F65D6B" stroke-width="1.2"/>
<line x1="92" y1="437.5" x2="254" y2="410.8" stroke="#5585F7" stroke-width="1.2"/>
<line x1="116.3" y1="535.7" x2="266.8" y2="482.8" stroke="#5585F7" stroke-width="1.2"/>
<line x1="415.9" y1="407.8" x2="709.4" y2="215" stroke="#5585F7" stroke-width="1.2"/>
<line x1="685.5" y1="171.8" x2="877.7" y2="72.2" stroke="#F65D6B" stroke-width="1.2"/>
<line x1="700" y1="287" x2="893.1" y2="187.1" stroke="#F65D6B" stroke-width="1.2"/>
<line x1="733.7" y1="273.4" x2="798.1" y2="171.2" stroke="#7E9CF8" stroke-width="1.2"/>
</g>
<line x1="0" y1="626.5" x2="1068" y2="626.5" stroke="#E4E6EC" stroke-width="1"/>
<line x1="0" y1="645.5" x2="1068" y2="645.5" stroke="#E4E6EC" stroke-width="1"/>
<line x1="0" y1="660.5" x2="1070" y2="660.5" stroke="#EEEEEE" stroke-width="1"/>
<rect x="1068" y="0" width="2" height="661" fill="#F6F6F6"/>
<text x="1038.60" y="616.31" textLength="26.20" lengthAdjust="spacingAndGlyphs" font-size="6.6" fill="#131722" font-family="Liberation Sans, sans-serif"  stroke="#131722" stroke-width="0.18">40,000.00</text>
<text x="1038.60" y="591.05" textLength="26.20" lengthAdjust="spacingAndGlyphs" font-size="6.6" fill="#131722" font-family="Liberation Sans, sans-serif"  stroke="#131722" stroke-width="0.18">40,400.00</text>
<text x="1038.60" y="565.78" textLength="26.20" lengthAdjust="spacingAndGlyphs" font-size="6.6" fill="#131722" font-family="Liberation Sans, sans-serif"  stroke="#131722" stroke-width="0.18">40,800.00</text>
<text x="1038.60" y="540.51" textLength="26.20" lengthAdjust="spacingAndGlyphs" font-size="6.6" fill="#131722" font-family="Liberation Sans, sans-serif"  stroke="#131722" stroke-width="0.18">41,200.00</text>
<text x="1038.60" y="515.24" textLength="26.20" lengthAdjust="spacingAndGlyphs" font-size="6.6" fill="#131722" font-family="Liberation Sans, sans-serif"  stroke="#131722" stroke-width="0.18">41,600.00</text>
<text x="1038.60" y="489.97" textLength="26.20" lengthAdjust="spacingAndGlyphs" font-size="6.6" fill="#131722" font-family="Liberation Sans, sans-serif"  stroke="#131722" stroke-width="0.18">42,000.00</text>
<text x="1038.60" y="464.71" textLength="26.20" lengthAdjust="spacingAndGlyphs" font-size="6.6" fill="#131722" font-family="Liberation Sans, sans-serif"  stroke="#131722" stroke-width="0.18">42,400.00</text>
<text x="1038.60" y="439.44" textLength="26.20" lengthAdjust="spacingAndGlyphs" font-size="6.6" fill="#131722" font-family="Liberation Sans, sans-serif"  stroke="#131722" stroke-width="0.18">42,800.00</text>
<text x="1038.60" y="414.17" textLength="26.20" lengthAdjust="spacingAndGlyphs" font-size="6.6" fill="#131722" font-family="Liberation Sans, sans-serif"  stroke="#131722" stroke-width="0.18">43,200.00</text>
<text x="1038.60" y="388.90" textLength="26.20" lengthAdjust="spacingAndGlyphs" font-size="6.6" fill="#131722" font-family="Liberation Sans, sans-serif"  stroke="#131722" stroke-width="0.18">43,600.00</text>
<text x="1038.60" y="363.63" textLength="26.20" lengthAdjust="spacingAndGlyphs" font-size="6.6" fill="#131722" font-family="Liberation Sans, sans-serif"  stroke="#131722" stroke-width="0.18">44,000.00</text>
<text x="1038.60" y="338.37" textLength="26.20" lengthAdjust="spacingAndGlyphs" font-size="6.6" fill="#131722" font-family="Liberation Sans, sans-serif"  stroke="#131722" stroke-width="0.18">44,400.00</text>
<text x="1038.60" y="313.10" textLength="26.20" lengthAdjust="spacingAndGlyphs" font-size="6.6" fill="#131722" font-family="Liberation Sans, sans-serif"  stroke="#131722" stroke-width="0.18">44,800.00</text>
<text x="1038.60" y="287.83" textLength="26.20" lengthAdjust="spacingAndGlyphs" font-size="6.6" fill="#131722" font-family="Liberation Sans, sans-serif"  stroke="#131722" stroke-width="0.18">45,200.00</text>
<text x="1038.60" y="262.56" textLength="26.20" lengthAdjust="spacingAndGlyphs" font-size="6.6" fill="#131722" font-family="Liberation Sans, sans-serif"  stroke="#131722" stroke-width="0.18">45,600.00</text>
<text x="1038.60" y="237.29" textLength="26.20" lengthAdjust="spacingAndGlyphs" font-size="6.6" fill="#131722" font-family="Liberation Sans, sans-serif"  stroke="#131722" stroke-width="0.18">46,000.00</text>
<text x="1038.60" y="212.03" textLength="26.20" lengthAdjust="spacingAndGlyphs" font-size="6.6" fill="#131722" font-family="Liberation Sans, sans-serif"  stroke="#131722" stroke-width="0.18">46,400.00</text>
<text x="1038.60" y="186.76" textLength="26.20" lengthAdjust="spacingAndGlyphs" font-size="6.6" fill="#131722" font-family="Liberation Sans, sans-serif"  stroke="#131722" stroke-width="0.18">46,800.00</text>
<text x="1038.60" y="161.49" textLength="26.20" lengthAdjust="spacingAndGlyphs" font-size="6.6" fill="#131722" font-family="Liberation Sans, sans-serif"  stroke="#131722" stroke-width="0.18">47,200.00</text>
<text x="1038.60" y="136.22" textLength="26.20" lengthAdjust="spacingAndGlyphs" font-size="6.6" fill="#131722" font-family="Liberation Sans, sans-serif"  stroke="#131722" stroke-width="0.18">47,600.00</text>
<text x="1038.60" y="110.95" textLength="26.20" lengthAdjust="spacingAndGlyphs" font-size="6.6" fill="#131722" font-family="Liberation Sans, sans-serif"  stroke="#131722" stroke-width="0.18">48,000.00</text>
<text x="1038.60" y="85.69" textLength="26.20" lengthAdjust="spacingAndGlyphs" font-size="6.6" fill="#131722" font-family="Liberation Sans, sans-serif"  stroke="#131722" stroke-width="0.18">48,400.00</text>
<text x="1038.60" y="60.42" textLength="26.20" lengthAdjust="spacingAndGlyphs" font-size="6.6" fill="#131722" font-family="Liberation Sans, sans-serif"  stroke="#131722" stroke-width="0.18">48,800.00</text>
<text x="1038.60" y="35.15" textLength="26.20" lengthAdjust="spacingAndGlyphs" font-size="6.6" fill="#131722" font-family="Liberation Sans, sans-serif"  stroke="#131722" stroke-width="0.18">49,200.00</text>
<rect x="1034.6" y="484.9" width="32.2" height="9.2" rx="1" fill="#F23645"/>
<text x="1038.40" y="491.56" textLength="26.20" lengthAdjust="spacingAndGlyphs" font-size="6.6" fill="#fff" font-family="Liberation Sans, sans-serif"  stroke="#fff" stroke-width="0.18">41,981.15</text>
<rect x="1034.6" y="399.0" width="32.2" height="9.2" rx="1" fill="#F23645"/>
<text x="1038.40" y="405.68" textLength="26.20" lengthAdjust="spacingAndGlyphs" font-size="6.6" fill="#fff" font-family="Liberation Sans, sans-serif"  stroke="#fff" stroke-width="0.18">43,340.69</text>
<rect x="1034.6" y="320.7" width="32.2" height="9.2" rx="1" fill="#F23645"/>
<text x="1038.40" y="327.45" textLength="26.20" lengthAdjust="spacingAndGlyphs" font-size="6.6" fill="#fff" font-family="Liberation Sans, sans-serif"  stroke="#fff" stroke-width="0.18">44,579.20</text>
<rect x="1034.6" y="297.4" width="32.2" height="9.2" rx="1" fill="#F23645"/>
<text x="1038.40" y="304.14" textLength="26.20" lengthAdjust="spacingAndGlyphs" font-size="6.6" fill="#fff" font-family="Liberation Sans, sans-serif"  stroke="#fff" stroke-width="0.18">44,948.15</text>
<rect x="1034.6" y="265.6" width="32.2" height="9.2" rx="1" fill="#F23645"/>
<text x="1038.40" y="272.31" textLength="26.20" lengthAdjust="spacingAndGlyphs" font-size="6.6" fill="#fff" font-family="Liberation Sans, sans-serif"  stroke="#fff" stroke-width="0.18">45,452.04</text>
<rect x="1034.6" y="248.1" width="32.2" height="9.2" rx="1" fill="#F23645"/>
<text x="1038.40" y="254.79" textLength="26.20" lengthAdjust="spacingAndGlyphs" font-size="6.6" fill="#fff" font-family="Liberation Sans, sans-serif"  stroke="#fff" stroke-width="0.18">45,729.42</text>
<rect x="1034.6" y="168.6" width="32.2" height="9.2" rx="1" fill="#00FFFF"/>
<text x="1038.40" y="175.30" textLength="26.20" lengthAdjust="spacingAndGlyphs" font-size="6.6" fill="#000" font-family="Liberation Sans, sans-serif"  font-style="italic" stroke="#000" stroke-width="0.18">46,987.74</text>
<rect x="1034.6" y="151.2" width="32.2" height="9.2" rx="1" fill="#F23645"/>
<text x="1038.40" y="157.85" textLength="26.20" lengthAdjust="spacingAndGlyphs" font-size="6.6" fill="#fff" font-family="Liberation Sans, sans-serif"  stroke="#fff" stroke-width="0.18">47,263.93</text>
<rect x="1034.6" y="142.1" width="32.2" height="9.2" rx="1" fill="#FF0000"/>
<text x="1038.40" y="148.77" textLength="26.20" lengthAdjust="spacingAndGlyphs" font-size="6.6" fill="#fff" font-family="Liberation Sans, sans-serif"  font-style="italic" stroke="#fff" stroke-width="0.18">47,407.65</text>
<rect x="1034.6" y="96.2" width="32.2" height="9.2" rx="1" fill="#2962FF"/>
<text x="1038.40" y="102.92" textLength="26.20" lengthAdjust="spacingAndGlyphs" font-size="6.6" fill="#fff" font-family="Liberation Sans, sans-serif"  stroke="#fff" stroke-width="0.18">48,133.55</text>
<rect x="1034.6" y="77.4" width="32.2" height="9.2" rx="1" fill="#2962FF"/>
<text x="1038.40" y="84.09" textLength="26.20" lengthAdjust="spacingAndGlyphs" font-size="6.6" fill="#fff" font-family="Liberation Sans, sans-serif"  stroke="#fff" stroke-width="0.18">48,431.58</text>
<rect x="1022.3" y="60.0" width="44.5" height="9.2" rx="1" fill="#089981"/>
<line x1="1034.3" y1="60.0" x2="1034.3" y2="69.2" stroke="#5CC0AD" stroke-width="0.5"/>
<text x="1024.10" y="66.70" textLength="7.90" lengthAdjust="spacingAndGlyphs" font-size="6.6" fill="#fff" font-family="Liberation Sans, sans-serif"  stroke="#fff" stroke-width="0.18">DJI</text>
<text x="1038.30" y="66.70" textLength="26.00" lengthAdjust="spacingAndGlyphs" font-size="6.6" fill="#fff" font-family="Liberation Sans, sans-serif"  stroke="#fff" stroke-width="0.18">48,706.84</text>
<rect x="1035.6" y="0.5" width="31.4" height="14.5" rx="2.5" fill="#fff" stroke="#F0F0F0" stroke-width="1"/>
<text x="1040.00" y="10.60" textLength="11.00" lengthAdjust="spacingAndGlyphs" font-size="6.8" fill="#131722" font-family="Liberation Sans, sans-serif"  stroke="#131722" stroke-width="0.18">USD</text>
<text x="31.15" y="654.80" textLength="11.50" lengthAdjust="spacingAndGlyphs" font-size="6.6" fill="#131722" font-family="Liberation Sans, sans-serif" font-weight="bold">五月</text>
<text x="162.65" y="654.80" textLength="11.50" lengthAdjust="spacingAndGlyphs" font-size="6.6" fill="#131722" font-family="Liberation Sans, sans-serif" font-weight="bold">六月</text>
<text x="281.55" y="654.80" textLength="11.50" lengthAdjust="spacingAndGlyphs" font-size="6.6" fill="#131722" font-family="Liberation Sans, sans-serif" font-weight="bold">七月</text>
<text x="413.25" y="654.80" textLength="11.50" lengthAdjust="spacingAndGlyphs" font-size="6.6" fill="#131722" font-family="Liberation Sans, sans-serif" font-weight="bold">八月</text>
<text x="544.95" y="654.80" textLength="11.50" lengthAdjust="spacingAndGlyphs" font-size="6.6" fill="#131722" font-family="Liberation Sans, sans-serif" font-weight="bold">九月</text>
<text x="669.75" y="654.80" textLength="11.50" lengthAdjust="spacingAndGlyphs" font-size="6.6" fill="#131722" font-family="Liberation Sans, sans-serif" font-weight="bold">十月</text>
<text x="807.48" y="654.80" textLength="17.25" lengthAdjust="spacingAndGlyphs" font-size="6.6" fill="#131722" font-family="Liberation Sans, sans-serif" font-weight="bold">十一月</text>
<text x="923.58" y="654.80" textLength="17.25" lengthAdjust="spacingAndGlyphs" font-size="6.6" fill="#131722" font-family="Liberation Sans, sans-serif" font-weight="bold">十二月</text>
<text x="2.80" y="9.30" textLength="52.00" lengthAdjust="spacingAndGlyphs" font-size="7" fill="#131722" font-family="Liberation Sans, sans-serif" stroke="#131722" stroke-width="0.15">道瓊斯工業平均指數</text>
<text x="56.40" y="9.30" textLength="1.80" lengthAdjust="spacingAndGlyphs" font-size="7" fill="#131722" font-family="Liberation Sans, sans-serif"  stroke="#131722" stroke-width="0.18">·</text>
<text x="60.40" y="9.30" textLength="14.30" lengthAdjust="spacingAndGlyphs" font-size="7" fill="#131722" font-family="Liberation Sans, sans-serif" stroke="#131722" stroke-width="0.15">4小時</text>
<text x="77.40" y="9.30" textLength="1.80" lengthAdjust="spacingAndGlyphs" font-size="7" fill="#131722" font-family="Liberation Sans, sans-serif"  stroke="#131722" stroke-width="0.18">·</text>
<text x="81.40" y="9.30" textLength="9.30" lengthAdjust="spacingAndGlyphs" font-size="7" fill="#131722" font-family="Liberation Sans, sans-serif"  stroke="#131722" stroke-width="0.18">TVC</text>
<text x="94.90" y="9.30" textLength="5.00" lengthAdjust="spacingAndGlyphs" font-size="7" fill="#131722" font-family="Liberation Sans, sans-serif" stroke="#131722" stroke-width="0.15">開</text>
<text x="101.20" y="9.30" textLength="2.20" lengthAdjust="spacingAndGlyphs" font-size="7" fill="#131722" font-family="Liberation Sans, sans-serif"  stroke="#131722" stroke-width="0.18">=</text>
<text x="104.00" y="9.30" textLength="25.80" lengthAdjust="spacingAndGlyphs" font-size="7" fill="#089981" font-family="Liberation Sans, sans-serif"  stroke="#089981" stroke-width="0.18">48,658.38</text>
<text x="133.10" y="9.30" textLength="5.30" lengthAdjust="spacingAndGlyphs" font-size="7" fill="#131722" font-family="Liberation Sans, sans-serif" stroke="#131722" stroke-width="0.15">高</text>
<text x="138.60" y="9.30" textLength="2.40" lengthAdjust="spacingAndGlyphs" font-size="7" fill="#131722" font-family="Liberation Sans, sans-serif"  stroke="#131722" stroke-width="0.18">=</text>
<text x="141.70" y="9.30" textLength="25.50" lengthAdjust="spacingAndGlyphs" font-size="7" fill="#089981" font-family="Liberation Sans, sans-serif"  stroke="#089981" stroke-width="0.18">48,756.35</text>
<text x="171.00" y="9.30" textLength="5.20" lengthAdjust="spacingAndGlyphs" font-size="7" fill="#131722" font-family="Liberation Sans, sans-serif" stroke="#131722" stroke-width="0.15">低</text>
<text x="176.90" y="9.30" textLength="2.40" lengthAdjust="spacingAndGlyphs" font-size="7" fill="#131722" font-family="Liberation Sans, sans-serif"  stroke="#131722" stroke-width="0.18">=</text>
<text x="179.60" y="9.30" textLength="26.10" lengthAdjust="spacingAndGlyphs" font-size="7" fill="#089981" font-family="Liberation Sans, sans-serif"  stroke="#089981" stroke-width="0.18">48,636.18</text>
<text x="209.10" y="9.30" textLength="5.20" lengthAdjust="spacingAndGlyphs" font-size="7" fill="#131722" font-family="Liberation Sans, sans-serif" stroke="#131722" stroke-width="0.15">收</text>
<text x="215.00" y="9.30" textLength="2.40" lengthAdjust="spacingAndGlyphs" font-size="7" fill="#131722" font-family="Liberation Sans, sans-serif"  stroke="#131722" stroke-width="0.18">=</text>
<text x="218.10" y="9.30" textLength="25.00" lengthAdjust="spacingAndGlyphs" font-size="7" fill="#089981" font-family="Liberation Sans, sans-serif"  stroke="#089981" stroke-width="0.18">48,706.84</text>
<text x="247.00" y="9.30" textLength="17.10" lengthAdjust="spacingAndGlyphs" font-size="7" fill="#089981" font-family="Liberation Sans, sans-serif"  stroke="#089981" stroke-width="0.18">+49.44</text>
<text x="266.10" y="9.30" textLength="21.90" lengthAdjust="spacingAndGlyphs" font-size="7" fill="#089981" font-family="Liberation Sans, sans-serif"  stroke="#089981" stroke-width="0.18">(+0.10%)</text>
<text x="2.50" y="19.00" textLength="31.10" lengthAdjust="spacingAndGlyphs" font-size="7" fill="#131722" font-family="Liberation Sans, sans-serif"  stroke="#131722" stroke-width="0.18">EMA 50/100</text>
<text x="36.50" y="19.00" textLength="26.20" lengthAdjust="spacingAndGlyphs" font-size="7" fill="#FF3B3B" font-family="Liberation Sans, sans-serif" font-style="italic" stroke="#FF3B3B" stroke-width="0.18">47,407.65</text>
<text x="65.60" y="19.00" textLength="26.20" lengthAdjust="spacingAndGlyphs" font-size="7" fill="#1DE9F6" font-family="Liberation Sans, sans-serif" font-style="italic" stroke="#1DE9F6" stroke-width="0.18">46,987.74</text>
<text x="3.00" y="638.00" textLength="36.60" lengthAdjust="spacingAndGlyphs" font-size="7" fill="#131722" font-family="Liberation Sans, sans-serif"  stroke="#131722" stroke-width="0.18">RSI (14, close)</text>
<text x="43.40" y="638.00" textLength="14.20" lengthAdjust="spacingAndGlyphs" font-size="7" fill="#9A7BD6" font-family="Liberation Sans, sans-serif"  stroke="#9A7BD6" stroke-width="0.18">70.10</text>
<text x="60.60" y="638.00" textLength="14.20" lengthAdjust="spacingAndGlyphs" font-size="7" fill="#F9C933" font-family="Liberation Sans, sans-serif"  stroke="#F9C933" stroke-width="0.18">61.12</text>
<rect x="979.2" y="613.2" width="29.4" height="11.8" fill="#fff"/>
<circle cx="984.5" cy="619.05" r="4.6" fill="#fff" stroke="#B455C8" stroke-width="1"/>
<path d="M985.7 615.9 L983.7 619.3 L985.3 619.3 L983.4 622.3" fill="none" stroke="#A53BBE" stroke-width="1.2" stroke-linejoin="round"/>
<defs><clipPath id="fc1"><circle cx="996.75" cy="619.05" r="4.6"/></clipPath><clipPath id="fc2"><circle cx="1002.8" cy="619.05" r="4.6"/></clipPath></defs>
<circle cx="996.75" cy="619.05" r="5.2" fill="#fff"/>
<g clip-path="url(#fc1)"><rect x="991.75" y="614.05" width="10" height="10" fill="#fff"/><rect x="991.75" y="618.55" width="10" height="1.1" fill="#F0404C"/><rect x="991.75" y="621.75" width="10" height="1.2" fill="#F0404C"/><rect x="991.75" y="614.05" width="4.9" height="6.1" rx="1" fill="#3D8BF2"/></g>
<circle cx="996.75" cy="619.05" r="4.9" fill="none" stroke="#F7707C" stroke-width="1.1"/>
<circle cx="1002.8" cy="619.05" r="5.2" fill="#fff"/>
<g clip-path="url(#fc2)"><rect x="997.8" y="614.05" width="10" height="10" fill="#fff"/><rect x="997.8" y="618.55" width="10" height="1.1" fill="#F0404C"/><rect x="997.8" y="621.75" width="10" height="1.2" fill="#F0404C"/><rect x="997.8" y="614.05" width="4.9" height="6.1" rx="1" fill="#3D8BF2"/></g>
<circle cx="1002.8" cy="619.05" r="4.9" fill="none" stroke="#F7707C" stroke-width="1.1"/>
</svg>
</body></html>
